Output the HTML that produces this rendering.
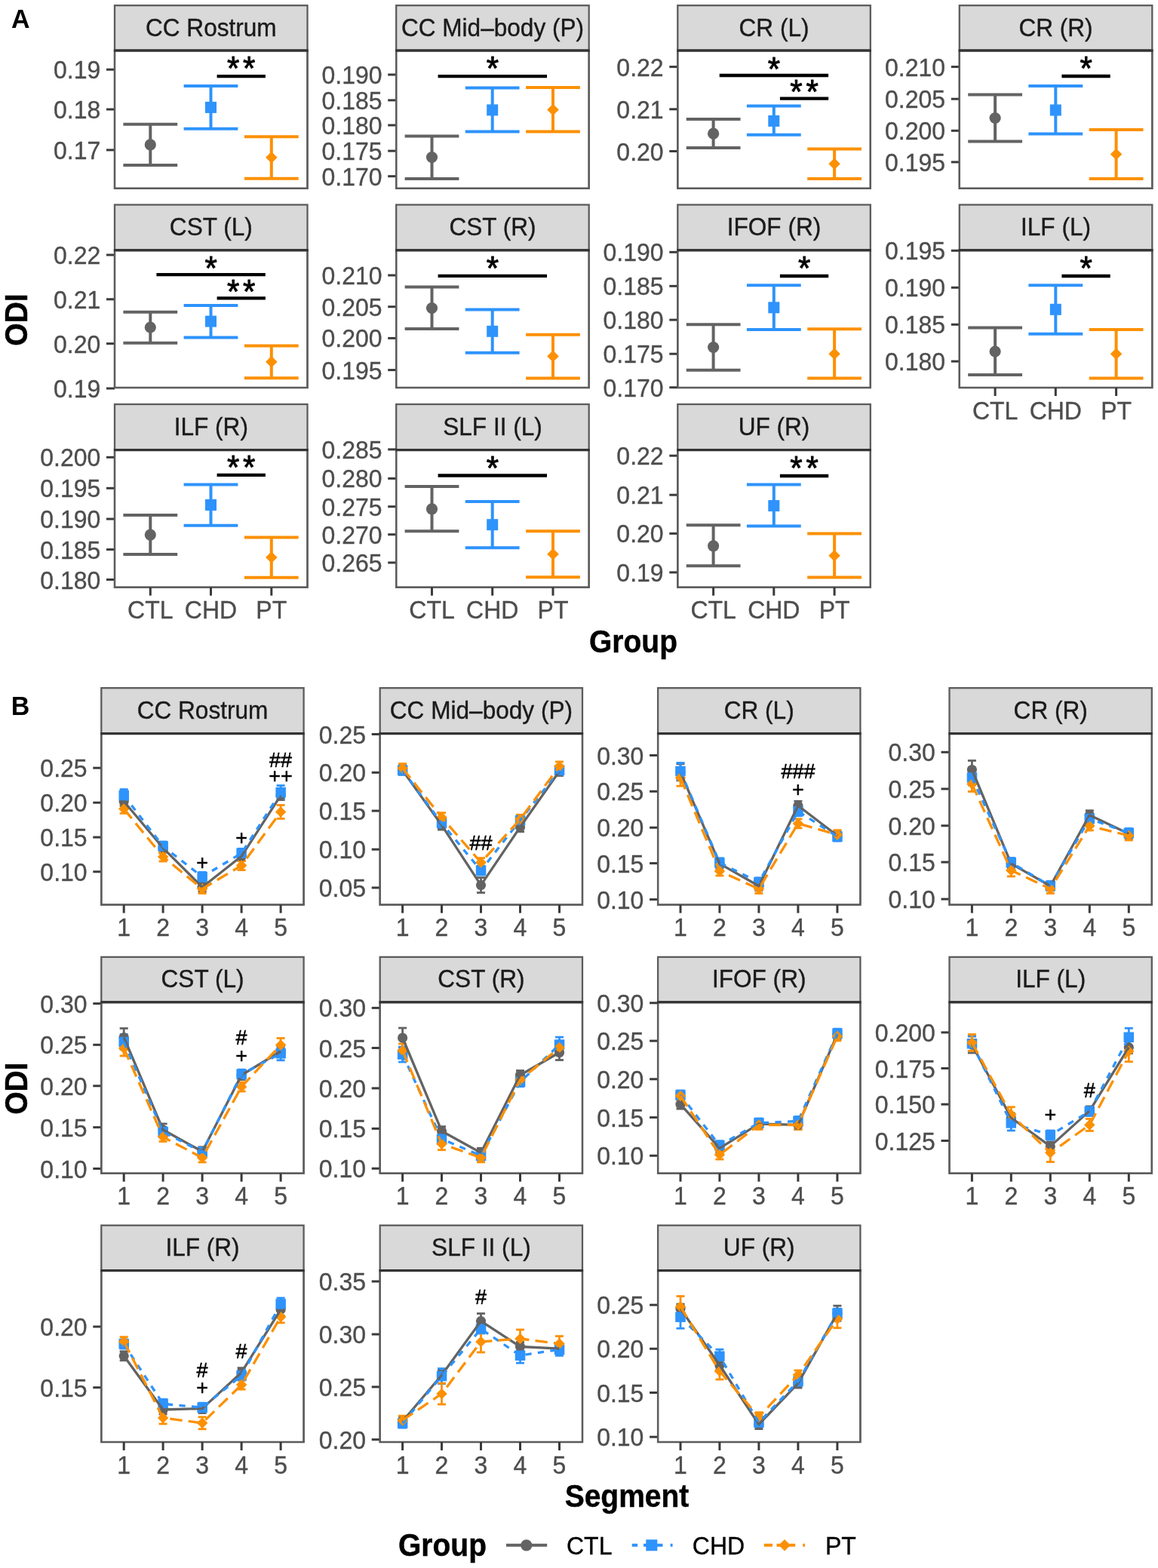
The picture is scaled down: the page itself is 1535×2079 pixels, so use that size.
<!DOCTYPE html>
<html><head><meta charset="utf-8"><title>ODI figure</title>
<style>
html,body{margin:0;padding:0;background:#fff;}
svg{display:block;}
text{font-family:'Liberation Sans', Arial, Helvetica, sans-serif;}
</style></head>
<body>
<svg width="1535" height="2079" viewBox="0 0 1535 2079">
<rect width="1535" height="2079" fill="#fff"/>
<rect x="152.0" y="7.2" width="255.5" height="59.6" fill="#d9d9d9" stroke="#5c5c5c" stroke-width="2.3"/>
<text transform="translate(279.8,47.5) scale(1,1.035)" font-size="31.6" text-anchor="middle" font-weight="normal" fill="#1a1a1a" stroke="#1a1a1a" stroke-width="0.35" >CC Rostrum</text>
<rect x="152.0" y="66.8" width="255.5" height="183.0" fill="#fff" stroke="#5c5c5c" stroke-width="2.3"/>
<line x1="141.0" y1="92.2" x2="152.0" y2="92.2" stroke="#3a3a3a" stroke-width="3" />
<text transform="translate(133.3,104.2) scale(1,1.035)" font-size="32" text-anchor="end" font-weight="normal" fill="#4d4d4d" stroke="#4d4d4d" stroke-width="0.35" >0.19</text>
<line x1="141.0" y1="145.0" x2="152.0" y2="145.0" stroke="#3a3a3a" stroke-width="3" />
<text transform="translate(133.3,157.0) scale(1,1.035)" font-size="32" text-anchor="end" font-weight="normal" fill="#4d4d4d" stroke="#4d4d4d" stroke-width="0.35" >0.18</text>
<line x1="141.0" y1="198.9" x2="152.0" y2="198.9" stroke="#3a3a3a" stroke-width="3" />
<text transform="translate(133.3,210.9) scale(1,1.035)" font-size="32" text-anchor="end" font-weight="normal" fill="#4d4d4d" stroke="#4d4d4d" stroke-width="0.35" >0.17</text>
<line x1="163.4" y1="164.8" x2="235.2" y2="164.8" stroke="#636363" stroke-width="4.0" />
<line x1="163.4" y1="218.9" x2="235.2" y2="218.9" stroke="#636363" stroke-width="4.0" />
<line x1="199.3" y1="164.8" x2="199.3" y2="218.9" stroke="#636363" stroke-width="4.0" />
<circle cx="199.3" cy="191.9" r="7.6" fill="#636363"/>
<line x1="243.6" y1="113.9" x2="315.4" y2="113.9" stroke="#2e93fc" stroke-width="4.0" />
<line x1="243.6" y1="170.8" x2="315.4" y2="170.8" stroke="#2e93fc" stroke-width="4.0" />
<line x1="279.5" y1="113.9" x2="279.5" y2="170.8" stroke="#2e93fc" stroke-width="4.0" />
<rect x="272.0" y="134.9" width="15" height="15" fill="#2e93fc"/>
<line x1="323.9" y1="181.2" x2="395.7" y2="181.2" stroke="#fc9003" stroke-width="4.0" />
<line x1="323.9" y1="236.8" x2="395.7" y2="236.8" stroke="#fc9003" stroke-width="4.0" />
<line x1="359.8" y1="181.2" x2="359.8" y2="236.8" stroke="#fc9003" stroke-width="4.0" />
<polygon points="359.8,201.1 367.6,208.8 359.8,216.6 352.1,208.8" fill="#fc9003"/>
<line x1="287.6" y1="101.1" x2="351.9" y2="101.1" stroke="#000" stroke-width="4.3" />
<text transform="translate(322.1,106.3) scale(1,1.035)" font-size="42" text-anchor="middle" font-weight="normal" fill="#000" stroke="#000" stroke-width="0.9" letter-spacing="4.8" stroke-linejoin="round">**</text>
<rect x="152.0" y="66.8" width="255.5" height="183.0" fill="none" stroke="#5c5c5c" stroke-width="2.3"/>
<line x1="151.0" y1="67.1" x2="408.5" y2="67.1" stroke="#333" stroke-width="3.2" />
<rect x="525.2" y="7.2" width="255.5" height="59.6" fill="#d9d9d9" stroke="#5c5c5c" stroke-width="2.3"/>
<text transform="translate(653.0,47.5) scale(1,1.035)" font-size="31.6" text-anchor="middle" font-weight="normal" fill="#1a1a1a" stroke="#1a1a1a" stroke-width="0.35" >CC Mid–body (P)</text>
<rect x="525.2" y="66.8" width="255.5" height="183.0" fill="#fff" stroke="#5c5c5c" stroke-width="2.3"/>
<line x1="514.2" y1="99.0" x2="525.2" y2="99.0" stroke="#3a3a3a" stroke-width="3" />
<text transform="translate(506.5,111.0) scale(1,1.035)" font-size="32" text-anchor="end" font-weight="normal" fill="#4d4d4d" stroke="#4d4d4d" stroke-width="0.35" >0.190</text>
<line x1="514.2" y1="132.9" x2="525.2" y2="132.9" stroke="#3a3a3a" stroke-width="3" />
<text transform="translate(506.5,144.9) scale(1,1.035)" font-size="32" text-anchor="end" font-weight="normal" fill="#4d4d4d" stroke="#4d4d4d" stroke-width="0.35" >0.185</text>
<line x1="514.2" y1="166.0" x2="525.2" y2="166.0" stroke="#3a3a3a" stroke-width="3" />
<text transform="translate(506.5,178.0) scale(1,1.035)" font-size="32" text-anchor="end" font-weight="normal" fill="#4d4d4d" stroke="#4d4d4d" stroke-width="0.35" >0.180</text>
<line x1="514.2" y1="200.1" x2="525.2" y2="200.1" stroke="#3a3a3a" stroke-width="3" />
<text transform="translate(506.5,212.1) scale(1,1.035)" font-size="32" text-anchor="end" font-weight="normal" fill="#4d4d4d" stroke="#4d4d4d" stroke-width="0.35" >0.175</text>
<line x1="514.2" y1="233.7" x2="525.2" y2="233.7" stroke="#3a3a3a" stroke-width="3" />
<text transform="translate(506.5,245.7) scale(1,1.035)" font-size="32" text-anchor="end" font-weight="normal" fill="#4d4d4d" stroke="#4d4d4d" stroke-width="0.35" >0.170</text>
<line x1="536.6" y1="180.6" x2="608.4" y2="180.6" stroke="#636363" stroke-width="4.0" />
<line x1="536.6" y1="237.1" x2="608.4" y2="237.1" stroke="#636363" stroke-width="4.0" />
<line x1="572.5" y1="180.6" x2="572.5" y2="237.1" stroke="#636363" stroke-width="4.0" />
<circle cx="572.5" cy="208.5" r="7.6" fill="#636363"/>
<line x1="616.8" y1="116.5" x2="688.6" y2="116.5" stroke="#2e93fc" stroke-width="4.0" />
<line x1="616.8" y1="174.6" x2="688.6" y2="174.6" stroke="#2e93fc" stroke-width="4.0" />
<line x1="652.7" y1="116.5" x2="652.7" y2="174.6" stroke="#2e93fc" stroke-width="4.0" />
<rect x="645.2" y="138.4" width="15" height="15" fill="#2e93fc"/>
<line x1="697.1" y1="116.0" x2="768.9" y2="116.0" stroke="#fc9003" stroke-width="4.0" />
<line x1="697.1" y1="174.6" x2="768.9" y2="174.6" stroke="#fc9003" stroke-width="4.0" />
<line x1="733.0" y1="116.0" x2="733.0" y2="174.6" stroke="#fc9003" stroke-width="4.0" />
<polygon points="733.0,137.7 740.8,145.4 733.0,153.2 725.2,145.4" fill="#fc9003"/>
<line x1="580.6" y1="101.1" x2="725.0" y2="101.1" stroke="#000" stroke-width="4.3" />
<text transform="translate(655.2,106.3) scale(1,1.035)" font-size="42" text-anchor="middle" font-weight="normal" fill="#000" stroke="#000" stroke-width="0.9" letter-spacing="4.8" stroke-linejoin="round">*</text>
<rect x="525.2" y="66.8" width="255.5" height="183.0" fill="none" stroke="#5c5c5c" stroke-width="2.3"/>
<line x1="524.2" y1="67.1" x2="781.7" y2="67.1" stroke="#333" stroke-width="3.2" />
<rect x="898.3" y="7.2" width="255.5" height="59.6" fill="#d9d9d9" stroke="#5c5c5c" stroke-width="2.3"/>
<text transform="translate(1026.0,47.5) scale(1,1.035)" font-size="31.6" text-anchor="middle" font-weight="normal" fill="#1a1a1a" stroke="#1a1a1a" stroke-width="0.35" >CR (L)</text>
<rect x="898.3" y="66.8" width="255.5" height="183.0" fill="#fff" stroke="#5c5c5c" stroke-width="2.3"/>
<line x1="887.3" y1="88.6" x2="898.3" y2="88.6" stroke="#3a3a3a" stroke-width="3" />
<text transform="translate(879.6,100.6) scale(1,1.035)" font-size="32" text-anchor="end" font-weight="normal" fill="#4d4d4d" stroke="#4d4d4d" stroke-width="0.35" >0.22</text>
<line x1="887.3" y1="144.8" x2="898.3" y2="144.8" stroke="#3a3a3a" stroke-width="3" />
<text transform="translate(879.6,156.8) scale(1,1.035)" font-size="32" text-anchor="end" font-weight="normal" fill="#4d4d4d" stroke="#4d4d4d" stroke-width="0.35" >0.21</text>
<line x1="887.3" y1="200.5" x2="898.3" y2="200.5" stroke="#3a3a3a" stroke-width="3" />
<text transform="translate(879.6,212.5) scale(1,1.035)" font-size="32" text-anchor="end" font-weight="normal" fill="#4d4d4d" stroke="#4d4d4d" stroke-width="0.35" >0.20</text>
<line x1="909.7" y1="157.9" x2="981.5" y2="157.9" stroke="#636363" stroke-width="4.0" />
<line x1="909.7" y1="196.0" x2="981.5" y2="196.0" stroke="#636363" stroke-width="4.0" />
<line x1="945.6" y1="157.9" x2="945.6" y2="196.0" stroke="#636363" stroke-width="4.0" />
<circle cx="945.6" cy="177.2" r="7.6" fill="#636363"/>
<line x1="989.9" y1="140.6" x2="1061.7" y2="140.6" stroke="#2e93fc" stroke-width="4.0" />
<line x1="989.9" y1="178.7" x2="1061.7" y2="178.7" stroke="#2e93fc" stroke-width="4.0" />
<line x1="1025.8" y1="140.6" x2="1025.8" y2="178.7" stroke="#2e93fc" stroke-width="4.0" />
<rect x="1018.3" y="152.9" width="15" height="15" fill="#2e93fc"/>
<line x1="1070.2" y1="197.5" x2="1142.0" y2="197.5" stroke="#fc9003" stroke-width="4.0" />
<line x1="1070.2" y1="237.1" x2="1142.0" y2="237.1" stroke="#fc9003" stroke-width="4.0" />
<line x1="1106.1" y1="197.5" x2="1106.1" y2="237.1" stroke="#fc9003" stroke-width="4.0" />
<polygon points="1106.1,209.6 1113.8,217.3 1106.1,225.1 1098.3,217.3" fill="#fc9003"/>
<line x1="953.7" y1="100.0" x2="1098.1" y2="100.0" stroke="#000" stroke-width="4.3" />
<text transform="translate(1028.3,106.7) scale(1,1.035)" font-size="42" text-anchor="middle" font-weight="normal" fill="#000" stroke="#000" stroke-width="0.9" letter-spacing="4.8" stroke-linejoin="round">*</text>
<line x1="1033.9" y1="130.7" x2="1098.2" y2="130.7" stroke="#000" stroke-width="4.3" />
<text transform="translate(1068.5,137.4) scale(1,1.035)" font-size="42" text-anchor="middle" font-weight="normal" fill="#000" stroke="#000" stroke-width="0.9" letter-spacing="4.8" stroke-linejoin="round">**</text>
<rect x="898.3" y="66.8" width="255.5" height="183.0" fill="none" stroke="#5c5c5c" stroke-width="2.3"/>
<line x1="897.3" y1="67.1" x2="1154.8" y2="67.1" stroke="#333" stroke-width="3.2" />
<rect x="1271.8" y="7.2" width="255.5" height="59.6" fill="#d9d9d9" stroke="#5c5c5c" stroke-width="2.3"/>
<text transform="translate(1399.5,47.5) scale(1,1.035)" font-size="31.6" text-anchor="middle" font-weight="normal" fill="#1a1a1a" stroke="#1a1a1a" stroke-width="0.35" >CR (R)</text>
<rect x="1271.8" y="66.8" width="255.5" height="183.0" fill="#fff" stroke="#5c5c5c" stroke-width="2.3"/>
<line x1="1260.8" y1="88.6" x2="1271.8" y2="88.6" stroke="#3a3a3a" stroke-width="3" />
<text transform="translate(1253.1,100.6) scale(1,1.035)" font-size="32" text-anchor="end" font-weight="normal" fill="#4d4d4d" stroke="#4d4d4d" stroke-width="0.35" >0.210</text>
<line x1="1260.8" y1="131.2" x2="1271.8" y2="131.2" stroke="#3a3a3a" stroke-width="3" />
<text transform="translate(1253.1,143.2) scale(1,1.035)" font-size="32" text-anchor="end" font-weight="normal" fill="#4d4d4d" stroke="#4d4d4d" stroke-width="0.35" >0.205</text>
<line x1="1260.8" y1="173.3" x2="1271.8" y2="173.3" stroke="#3a3a3a" stroke-width="3" />
<text transform="translate(1253.1,185.3) scale(1,1.035)" font-size="32" text-anchor="end" font-weight="normal" fill="#4d4d4d" stroke="#4d4d4d" stroke-width="0.35" >0.200</text>
<line x1="1260.8" y1="214.9" x2="1271.8" y2="214.9" stroke="#3a3a3a" stroke-width="3" />
<text transform="translate(1253.1,226.9) scale(1,1.035)" font-size="32" text-anchor="end" font-weight="normal" fill="#4d4d4d" stroke="#4d4d4d" stroke-width="0.35" >0.195</text>
<line x1="1283.2" y1="125.5" x2="1355.0" y2="125.5" stroke="#636363" stroke-width="4.0" />
<line x1="1283.2" y1="187.6" x2="1355.0" y2="187.6" stroke="#636363" stroke-width="4.0" />
<line x1="1319.1" y1="125.5" x2="1319.1" y2="187.6" stroke="#636363" stroke-width="4.0" />
<circle cx="1319.1" cy="156.5" r="7.6" fill="#636363"/>
<line x1="1363.4" y1="113.9" x2="1435.2" y2="113.9" stroke="#2e93fc" stroke-width="4.0" />
<line x1="1363.4" y1="177.5" x2="1435.2" y2="177.5" stroke="#2e93fc" stroke-width="4.0" />
<line x1="1399.3" y1="113.9" x2="1399.3" y2="177.5" stroke="#2e93fc" stroke-width="4.0" />
<rect x="1391.8" y="138.5" width="15" height="15" fill="#2e93fc"/>
<line x1="1443.7" y1="172.0" x2="1515.5" y2="172.0" stroke="#fc9003" stroke-width="4.0" />
<line x1="1443.7" y1="236.9" x2="1515.5" y2="236.9" stroke="#fc9003" stroke-width="4.0" />
<line x1="1479.6" y1="172.0" x2="1479.6" y2="236.9" stroke="#fc9003" stroke-width="4.0" />
<polygon points="1479.6,196.8 1487.3,204.5 1479.6,212.2 1471.8,204.5" fill="#fc9003"/>
<line x1="1407.4" y1="101.0" x2="1471.7" y2="101.0" stroke="#000" stroke-width="4.3" />
<text transform="translate(1442.0,106.2) scale(1,1.035)" font-size="42" text-anchor="middle" font-weight="normal" fill="#000" stroke="#000" stroke-width="0.9" letter-spacing="4.8" stroke-linejoin="round">*</text>
<rect x="1271.8" y="66.8" width="255.5" height="183.0" fill="none" stroke="#5c5c5c" stroke-width="2.3"/>
<line x1="1270.8" y1="67.1" x2="1528.3" y2="67.1" stroke="#333" stroke-width="3.2" />
<rect x="152.0" y="271.5" width="255.5" height="60.0" fill="#d9d9d9" stroke="#5c5c5c" stroke-width="2.3"/>
<text transform="translate(279.8,312.0) scale(1,1.035)" font-size="31.6" text-anchor="middle" font-weight="normal" fill="#1a1a1a" stroke="#1a1a1a" stroke-width="0.35" >CST (L)</text>
<rect x="152.0" y="331.5" width="255.5" height="182.5" fill="#fff" stroke="#5c5c5c" stroke-width="2.3"/>
<line x1="141.0" y1="338.0" x2="152.0" y2="338.0" stroke="#3a3a3a" stroke-width="3" />
<text transform="translate(133.3,350.0) scale(1,1.035)" font-size="32" text-anchor="end" font-weight="normal" fill="#4d4d4d" stroke="#4d4d4d" stroke-width="0.35" >0.22</text>
<line x1="141.0" y1="396.8" x2="152.0" y2="396.8" stroke="#3a3a3a" stroke-width="3" />
<text transform="translate(133.3,408.8) scale(1,1.035)" font-size="32" text-anchor="end" font-weight="normal" fill="#4d4d4d" stroke="#4d4d4d" stroke-width="0.35" >0.21</text>
<line x1="141.0" y1="455.6" x2="152.0" y2="455.6" stroke="#3a3a3a" stroke-width="3" />
<text transform="translate(133.3,467.6) scale(1,1.035)" font-size="32" text-anchor="end" font-weight="normal" fill="#4d4d4d" stroke="#4d4d4d" stroke-width="0.35" >0.20</text>
<line x1="141.0" y1="515.0" x2="152.0" y2="515.0" stroke="#3a3a3a" stroke-width="3" />
<text transform="translate(133.3,527.0) scale(1,1.035)" font-size="32" text-anchor="end" font-weight="normal" fill="#4d4d4d" stroke="#4d4d4d" stroke-width="0.35" >0.19</text>
<line x1="163.4" y1="413.8" x2="235.2" y2="413.8" stroke="#636363" stroke-width="4.0" />
<line x1="163.4" y1="454.8" x2="235.2" y2="454.8" stroke="#636363" stroke-width="4.0" />
<line x1="199.3" y1="413.8" x2="199.3" y2="454.8" stroke="#636363" stroke-width="4.0" />
<circle cx="199.3" cy="434.0" r="7.6" fill="#636363"/>
<line x1="243.6" y1="405.0" x2="315.4" y2="405.0" stroke="#2e93fc" stroke-width="4.0" />
<line x1="243.6" y1="447.4" x2="315.4" y2="447.4" stroke="#2e93fc" stroke-width="4.0" />
<line x1="279.5" y1="405.0" x2="279.5" y2="447.4" stroke="#2e93fc" stroke-width="4.0" />
<rect x="272.0" y="418.6" width="15" height="15" fill="#2e93fc"/>
<line x1="323.9" y1="458.4" x2="395.7" y2="458.4" stroke="#fc9003" stroke-width="4.0" />
<line x1="323.9" y1="501.3" x2="395.7" y2="501.3" stroke="#fc9003" stroke-width="4.0" />
<line x1="359.8" y1="458.4" x2="359.8" y2="501.3" stroke="#fc9003" stroke-width="4.0" />
<polygon points="359.8,471.9 367.6,479.7 359.8,487.4 352.1,479.7" fill="#fc9003"/>
<line x1="207.4" y1="364.2" x2="351.8" y2="364.2" stroke="#000" stroke-width="4.3" />
<text transform="translate(282.0,370.7) scale(1,1.035)" font-size="42" text-anchor="middle" font-weight="normal" fill="#000" stroke="#000" stroke-width="0.9" letter-spacing="4.8" stroke-linejoin="round">*</text>
<line x1="287.6" y1="395.4" x2="351.9" y2="395.4" stroke="#000" stroke-width="4.3" />
<text transform="translate(322.1,401.9) scale(1,1.035)" font-size="42" text-anchor="middle" font-weight="normal" fill="#000" stroke="#000" stroke-width="0.9" letter-spacing="4.8" stroke-linejoin="round">**</text>
<rect x="152.0" y="331.5" width="255.5" height="182.5" fill="none" stroke="#5c5c5c" stroke-width="2.3"/>
<line x1="151.0" y1="331.8" x2="408.5" y2="331.8" stroke="#333" stroke-width="3.2" />
<rect x="525.2" y="271.5" width="255.5" height="60.0" fill="#d9d9d9" stroke="#5c5c5c" stroke-width="2.3"/>
<text transform="translate(653.0,312.0) scale(1,1.035)" font-size="31.6" text-anchor="middle" font-weight="normal" fill="#1a1a1a" stroke="#1a1a1a" stroke-width="0.35" >CST (R)</text>
<rect x="525.2" y="331.5" width="255.5" height="182.5" fill="#fff" stroke="#5c5c5c" stroke-width="2.3"/>
<line x1="514.2" y1="365.0" x2="525.2" y2="365.0" stroke="#3a3a3a" stroke-width="3" />
<text transform="translate(506.5,377.0) scale(1,1.035)" font-size="32" text-anchor="end" font-weight="normal" fill="#4d4d4d" stroke="#4d4d4d" stroke-width="0.35" >0.210</text>
<line x1="514.2" y1="406.7" x2="525.2" y2="406.7" stroke="#3a3a3a" stroke-width="3" />
<text transform="translate(506.5,418.7) scale(1,1.035)" font-size="32" text-anchor="end" font-weight="normal" fill="#4d4d4d" stroke="#4d4d4d" stroke-width="0.35" >0.205</text>
<line x1="514.2" y1="448.4" x2="525.2" y2="448.4" stroke="#3a3a3a" stroke-width="3" />
<text transform="translate(506.5,460.4) scale(1,1.035)" font-size="32" text-anchor="end" font-weight="normal" fill="#4d4d4d" stroke="#4d4d4d" stroke-width="0.35" >0.200</text>
<line x1="514.2" y1="490.6" x2="525.2" y2="490.6" stroke="#3a3a3a" stroke-width="3" />
<text transform="translate(506.5,502.6) scale(1,1.035)" font-size="32" text-anchor="end" font-weight="normal" fill="#4d4d4d" stroke="#4d4d4d" stroke-width="0.35" >0.195</text>
<line x1="536.6" y1="380.4" x2="608.4" y2="380.4" stroke="#636363" stroke-width="4.0" />
<line x1="536.6" y1="435.9" x2="608.4" y2="435.9" stroke="#636363" stroke-width="4.0" />
<line x1="572.5" y1="380.4" x2="572.5" y2="435.9" stroke="#636363" stroke-width="4.0" />
<circle cx="572.5" cy="408.5" r="7.6" fill="#636363"/>
<line x1="616.8" y1="410.6" x2="688.6" y2="410.6" stroke="#2e93fc" stroke-width="4.0" />
<line x1="616.8" y1="467.7" x2="688.6" y2="467.7" stroke="#2e93fc" stroke-width="4.0" />
<line x1="652.7" y1="410.6" x2="652.7" y2="467.7" stroke="#2e93fc" stroke-width="4.0" />
<rect x="645.2" y="431.8" width="15" height="15" fill="#2e93fc"/>
<line x1="697.1" y1="443.7" x2="768.9" y2="443.7" stroke="#fc9003" stroke-width="4.0" />
<line x1="697.1" y1="501.6" x2="768.9" y2="501.6" stroke="#fc9003" stroke-width="4.0" />
<line x1="733.0" y1="443.7" x2="733.0" y2="501.6" stroke="#fc9003" stroke-width="4.0" />
<polygon points="733.0,464.6 740.8,472.4 733.0,480.1 725.2,472.4" fill="#fc9003"/>
<line x1="580.6" y1="365.8" x2="725.0" y2="365.8" stroke="#000" stroke-width="4.3" />
<text transform="translate(655.2,371.0) scale(1,1.035)" font-size="42" text-anchor="middle" font-weight="normal" fill="#000" stroke="#000" stroke-width="0.9" letter-spacing="4.8" stroke-linejoin="round">*</text>
<rect x="525.2" y="331.5" width="255.5" height="182.5" fill="none" stroke="#5c5c5c" stroke-width="2.3"/>
<line x1="524.2" y1="331.8" x2="781.7" y2="331.8" stroke="#333" stroke-width="3.2" />
<rect x="898.3" y="271.5" width="255.5" height="60.0" fill="#d9d9d9" stroke="#5c5c5c" stroke-width="2.3"/>
<text transform="translate(1026.0,312.0) scale(1,1.035)" font-size="31.6" text-anchor="middle" font-weight="normal" fill="#1a1a1a" stroke="#1a1a1a" stroke-width="0.35" >IFOF (R)</text>
<rect x="898.3" y="331.5" width="255.5" height="182.5" fill="#fff" stroke="#5c5c5c" stroke-width="2.3"/>
<line x1="887.3" y1="334.3" x2="898.3" y2="334.3" stroke="#3a3a3a" stroke-width="3" />
<text transform="translate(879.6,346.3) scale(1,1.035)" font-size="32" text-anchor="end" font-weight="normal" fill="#4d4d4d" stroke="#4d4d4d" stroke-width="0.35" >0.190</text>
<line x1="887.3" y1="379.3" x2="898.3" y2="379.3" stroke="#3a3a3a" stroke-width="3" />
<text transform="translate(879.6,391.3) scale(1,1.035)" font-size="32" text-anchor="end" font-weight="normal" fill="#4d4d4d" stroke="#4d4d4d" stroke-width="0.35" >0.185</text>
<line x1="887.3" y1="424.1" x2="898.3" y2="424.1" stroke="#3a3a3a" stroke-width="3" />
<text transform="translate(879.6,436.1) scale(1,1.035)" font-size="32" text-anchor="end" font-weight="normal" fill="#4d4d4d" stroke="#4d4d4d" stroke-width="0.35" >0.180</text>
<line x1="887.3" y1="469.2" x2="898.3" y2="469.2" stroke="#3a3a3a" stroke-width="3" />
<text transform="translate(879.6,481.2) scale(1,1.035)" font-size="32" text-anchor="end" font-weight="normal" fill="#4d4d4d" stroke="#4d4d4d" stroke-width="0.35" >0.175</text>
<line x1="887.3" y1="513.7" x2="898.3" y2="513.7" stroke="#3a3a3a" stroke-width="3" />
<text transform="translate(879.6,525.7) scale(1,1.035)" font-size="32" text-anchor="end" font-weight="normal" fill="#4d4d4d" stroke="#4d4d4d" stroke-width="0.35" >0.170</text>
<line x1="909.7" y1="430.3" x2="981.5" y2="430.3" stroke="#636363" stroke-width="4.0" />
<line x1="909.7" y1="490.7" x2="981.5" y2="490.7" stroke="#636363" stroke-width="4.0" />
<line x1="945.6" y1="430.3" x2="945.6" y2="490.7" stroke="#636363" stroke-width="4.0" />
<circle cx="945.6" cy="460.5" r="7.6" fill="#636363"/>
<line x1="989.9" y1="378.3" x2="1061.7" y2="378.3" stroke="#2e93fc" stroke-width="4.0" />
<line x1="989.9" y1="437.0" x2="1061.7" y2="437.0" stroke="#2e93fc" stroke-width="4.0" />
<line x1="1025.8" y1="378.3" x2="1025.8" y2="437.0" stroke="#2e93fc" stroke-width="4.0" />
<rect x="1018.3" y="400.3" width="15" height="15" fill="#2e93fc"/>
<line x1="1070.2" y1="436.3" x2="1142.0" y2="436.3" stroke="#fc9003" stroke-width="4.0" />
<line x1="1070.2" y1="501.4" x2="1142.0" y2="501.4" stroke="#fc9003" stroke-width="4.0" />
<line x1="1106.1" y1="436.3" x2="1106.1" y2="501.4" stroke="#fc9003" stroke-width="4.0" />
<polygon points="1106.1,461.4 1113.8,469.2 1106.1,476.9 1098.3,469.2" fill="#fc9003"/>
<line x1="1033.9" y1="366.0" x2="1098.2" y2="366.0" stroke="#000" stroke-width="4.3" />
<text transform="translate(1068.5,371.2) scale(1,1.035)" font-size="42" text-anchor="middle" font-weight="normal" fill="#000" stroke="#000" stroke-width="0.9" letter-spacing="4.8" stroke-linejoin="round">*</text>
<rect x="898.3" y="331.5" width="255.5" height="182.5" fill="none" stroke="#5c5c5c" stroke-width="2.3"/>
<line x1="897.3" y1="331.8" x2="1154.8" y2="331.8" stroke="#333" stroke-width="3.2" />
<rect x="1271.8" y="271.5" width="255.5" height="60.0" fill="#d9d9d9" stroke="#5c5c5c" stroke-width="2.3"/>
<text transform="translate(1399.5,312.0) scale(1,1.035)" font-size="31.6" text-anchor="middle" font-weight="normal" fill="#1a1a1a" stroke="#1a1a1a" stroke-width="0.35" >ILF (L)</text>
<rect x="1271.8" y="331.5" width="255.5" height="182.5" fill="#fff" stroke="#5c5c5c" stroke-width="2.3"/>
<line x1="1260.8" y1="332.3" x2="1271.8" y2="332.3" stroke="#3a3a3a" stroke-width="3" />
<text transform="translate(1253.1,344.3) scale(1,1.035)" font-size="32" text-anchor="end" font-weight="normal" fill="#4d4d4d" stroke="#4d4d4d" stroke-width="0.35" >0.195</text>
<line x1="1260.8" y1="381.3" x2="1271.8" y2="381.3" stroke="#3a3a3a" stroke-width="3" />
<text transform="translate(1253.1,393.3) scale(1,1.035)" font-size="32" text-anchor="end" font-weight="normal" fill="#4d4d4d" stroke="#4d4d4d" stroke-width="0.35" >0.190</text>
<line x1="1260.8" y1="430.3" x2="1271.8" y2="430.3" stroke="#3a3a3a" stroke-width="3" />
<text transform="translate(1253.1,442.3) scale(1,1.035)" font-size="32" text-anchor="end" font-weight="normal" fill="#4d4d4d" stroke="#4d4d4d" stroke-width="0.35" >0.185</text>
<line x1="1260.8" y1="479.1" x2="1271.8" y2="479.1" stroke="#3a3a3a" stroke-width="3" />
<text transform="translate(1253.1,491.1) scale(1,1.035)" font-size="32" text-anchor="end" font-weight="normal" fill="#4d4d4d" stroke="#4d4d4d" stroke-width="0.35" >0.180</text>
<line x1="1283.2" y1="434.5" x2="1355.0" y2="434.5" stroke="#636363" stroke-width="4.0" />
<line x1="1283.2" y1="496.9" x2="1355.0" y2="496.9" stroke="#636363" stroke-width="4.0" />
<line x1="1319.1" y1="434.5" x2="1319.1" y2="496.9" stroke="#636363" stroke-width="4.0" />
<circle cx="1319.1" cy="466.0" r="7.6" fill="#636363"/>
<line x1="1363.4" y1="378.3" x2="1435.2" y2="378.3" stroke="#2e93fc" stroke-width="4.0" />
<line x1="1363.4" y1="442.7" x2="1435.2" y2="442.7" stroke="#2e93fc" stroke-width="4.0" />
<line x1="1399.3" y1="378.3" x2="1399.3" y2="442.7" stroke="#2e93fc" stroke-width="4.0" />
<rect x="1391.8" y="402.8" width="15" height="15" fill="#2e93fc"/>
<line x1="1443.7" y1="437.0" x2="1515.5" y2="437.0" stroke="#fc9003" stroke-width="4.0" />
<line x1="1443.7" y1="501.4" x2="1515.5" y2="501.4" stroke="#fc9003" stroke-width="4.0" />
<line x1="1479.6" y1="437.0" x2="1479.6" y2="501.4" stroke="#fc9003" stroke-width="4.0" />
<polygon points="1479.6,461.4 1487.3,469.2 1479.6,476.9 1471.8,469.2" fill="#fc9003"/>
<line x1="1407.4" y1="366.0" x2="1471.7" y2="366.0" stroke="#000" stroke-width="4.3" />
<text transform="translate(1442.0,371.2) scale(1,1.035)" font-size="42" text-anchor="middle" font-weight="normal" fill="#000" stroke="#000" stroke-width="0.9" letter-spacing="4.8" stroke-linejoin="round">*</text>
<rect x="1271.8" y="331.5" width="255.5" height="182.5" fill="none" stroke="#5c5c5c" stroke-width="2.3"/>
<line x1="1270.8" y1="331.8" x2="1528.3" y2="331.8" stroke="#333" stroke-width="3.2" />
<line x1="1319.1" y1="514.0" x2="1319.1" y2="525.0" stroke="#3a3a3a" stroke-width="3" />
<text transform="translate(1319.1,555.5) scale(1,1.035)" font-size="32" text-anchor="middle" font-weight="normal" fill="#4d4d4d" stroke="#4d4d4d" stroke-width="0.35" >CTL</text>
<line x1="1399.3" y1="514.0" x2="1399.3" y2="525.0" stroke="#3a3a3a" stroke-width="3" />
<text transform="translate(1399.3,555.5) scale(1,1.035)" font-size="32" text-anchor="middle" font-weight="normal" fill="#4d4d4d" stroke="#4d4d4d" stroke-width="0.35" >CHD</text>
<line x1="1479.6" y1="514.0" x2="1479.6" y2="525.0" stroke="#3a3a3a" stroke-width="3" />
<text transform="translate(1479.6,555.5) scale(1,1.035)" font-size="32" text-anchor="middle" font-weight="normal" fill="#4d4d4d" stroke="#4d4d4d" stroke-width="0.35" >PT</text>
<rect x="152.0" y="536.0" width="255.5" height="60.3" fill="#d9d9d9" stroke="#5c5c5c" stroke-width="2.3"/>
<text transform="translate(279.8,576.6) scale(1,1.035)" font-size="31.6" text-anchor="middle" font-weight="normal" fill="#1a1a1a" stroke="#1a1a1a" stroke-width="0.35" >ILF (R)</text>
<rect x="152.0" y="596.3" width="255.5" height="182.4" fill="#fff" stroke="#5c5c5c" stroke-width="2.3"/>
<line x1="141.0" y1="606.3" x2="152.0" y2="606.3" stroke="#3a3a3a" stroke-width="3" />
<text transform="translate(133.3,618.3) scale(1,1.035)" font-size="32" text-anchor="end" font-weight="normal" fill="#4d4d4d" stroke="#4d4d4d" stroke-width="0.35" >0.200</text>
<line x1="141.0" y1="647.3" x2="152.0" y2="647.3" stroke="#3a3a3a" stroke-width="3" />
<text transform="translate(133.3,659.3) scale(1,1.035)" font-size="32" text-anchor="end" font-weight="normal" fill="#4d4d4d" stroke="#4d4d4d" stroke-width="0.35" >0.195</text>
<line x1="141.0" y1="688.1" x2="152.0" y2="688.1" stroke="#3a3a3a" stroke-width="3" />
<text transform="translate(133.3,700.1) scale(1,1.035)" font-size="32" text-anchor="end" font-weight="normal" fill="#4d4d4d" stroke="#4d4d4d" stroke-width="0.35" >0.190</text>
<line x1="141.0" y1="728.6" x2="152.0" y2="728.6" stroke="#3a3a3a" stroke-width="3" />
<text transform="translate(133.3,740.6) scale(1,1.035)" font-size="32" text-anchor="end" font-weight="normal" fill="#4d4d4d" stroke="#4d4d4d" stroke-width="0.35" >0.185</text>
<line x1="141.0" y1="768.5" x2="152.0" y2="768.5" stroke="#3a3a3a" stroke-width="3" />
<text transform="translate(133.3,780.5) scale(1,1.035)" font-size="32" text-anchor="end" font-weight="normal" fill="#4d4d4d" stroke="#4d4d4d" stroke-width="0.35" >0.180</text>
<line x1="163.4" y1="682.9" x2="235.2" y2="682.9" stroke="#636363" stroke-width="4.0" />
<line x1="163.4" y1="735.1" x2="235.2" y2="735.1" stroke="#636363" stroke-width="4.0" />
<line x1="199.3" y1="682.9" x2="199.3" y2="735.1" stroke="#636363" stroke-width="4.0" />
<circle cx="199.3" cy="709.1" r="7.6" fill="#636363"/>
<line x1="243.6" y1="642.6" x2="315.4" y2="642.6" stroke="#2e93fc" stroke-width="4.0" />
<line x1="243.6" y1="696.8" x2="315.4" y2="696.8" stroke="#2e93fc" stroke-width="4.0" />
<line x1="279.5" y1="642.6" x2="279.5" y2="696.8" stroke="#2e93fc" stroke-width="4.0" />
<rect x="272.0" y="662.0" width="15" height="15" fill="#2e93fc"/>
<line x1="323.9" y1="712.4" x2="395.7" y2="712.4" stroke="#fc9003" stroke-width="4.0" />
<line x1="323.9" y1="765.8" x2="395.7" y2="765.8" stroke="#fc9003" stroke-width="4.0" />
<line x1="359.8" y1="712.4" x2="359.8" y2="765.8" stroke="#fc9003" stroke-width="4.0" />
<polygon points="359.8,731.2 367.6,739.0 359.8,746.8 352.1,739.0" fill="#fc9003"/>
<line x1="287.6" y1="629.8" x2="351.9" y2="629.8" stroke="#000" stroke-width="4.3" />
<text transform="translate(322.1,635.0) scale(1,1.035)" font-size="42" text-anchor="middle" font-weight="normal" fill="#000" stroke="#000" stroke-width="0.9" letter-spacing="4.8" stroke-linejoin="round">**</text>
<rect x="152.0" y="596.3" width="255.5" height="182.4" fill="none" stroke="#5c5c5c" stroke-width="2.3"/>
<line x1="151.0" y1="596.6" x2="408.5" y2="596.6" stroke="#333" stroke-width="3.2" />
<line x1="199.3" y1="778.7" x2="199.3" y2="789.7" stroke="#3a3a3a" stroke-width="3" />
<text transform="translate(199.3,820.2) scale(1,1.035)" font-size="32" text-anchor="middle" font-weight="normal" fill="#4d4d4d" stroke="#4d4d4d" stroke-width="0.35" >CTL</text>
<line x1="279.5" y1="778.7" x2="279.5" y2="789.7" stroke="#3a3a3a" stroke-width="3" />
<text transform="translate(279.5,820.2) scale(1,1.035)" font-size="32" text-anchor="middle" font-weight="normal" fill="#4d4d4d" stroke="#4d4d4d" stroke-width="0.35" >CHD</text>
<line x1="359.8" y1="778.7" x2="359.8" y2="789.7" stroke="#3a3a3a" stroke-width="3" />
<text transform="translate(359.8,820.2) scale(1,1.035)" font-size="32" text-anchor="middle" font-weight="normal" fill="#4d4d4d" stroke="#4d4d4d" stroke-width="0.35" >PT</text>
<rect x="525.2" y="536.0" width="255.5" height="60.3" fill="#d9d9d9" stroke="#5c5c5c" stroke-width="2.3"/>
<text transform="translate(653.0,576.6) scale(1,1.035)" font-size="31.6" text-anchor="middle" font-weight="normal" fill="#1a1a1a" stroke="#1a1a1a" stroke-width="0.35" >SLF II (L)</text>
<rect x="525.2" y="596.3" width="255.5" height="182.4" fill="#fff" stroke="#5c5c5c" stroke-width="2.3"/>
<line x1="514.2" y1="595.9" x2="525.2" y2="595.9" stroke="#3a3a3a" stroke-width="3" />
<text transform="translate(506.5,607.9) scale(1,1.035)" font-size="32" text-anchor="end" font-weight="normal" fill="#4d4d4d" stroke="#4d4d4d" stroke-width="0.35" >0.285</text>
<line x1="514.2" y1="634.4" x2="525.2" y2="634.4" stroke="#3a3a3a" stroke-width="3" />
<text transform="translate(506.5,646.4) scale(1,1.035)" font-size="32" text-anchor="end" font-weight="normal" fill="#4d4d4d" stroke="#4d4d4d" stroke-width="0.35" >0.280</text>
<line x1="514.2" y1="671.7" x2="525.2" y2="671.7" stroke="#3a3a3a" stroke-width="3" />
<text transform="translate(506.5,683.7) scale(1,1.035)" font-size="32" text-anchor="end" font-weight="normal" fill="#4d4d4d" stroke="#4d4d4d" stroke-width="0.35" >0.275</text>
<line x1="514.2" y1="708.7" x2="525.2" y2="708.7" stroke="#3a3a3a" stroke-width="3" />
<text transform="translate(506.5,720.7) scale(1,1.035)" font-size="32" text-anchor="end" font-weight="normal" fill="#4d4d4d" stroke="#4d4d4d" stroke-width="0.35" >0.270</text>
<line x1="514.2" y1="746.0" x2="525.2" y2="746.0" stroke="#3a3a3a" stroke-width="3" />
<text transform="translate(506.5,758.0) scale(1,1.035)" font-size="32" text-anchor="end" font-weight="normal" fill="#4d4d4d" stroke="#4d4d4d" stroke-width="0.35" >0.265</text>
<line x1="536.6" y1="644.9" x2="608.4" y2="644.9" stroke="#636363" stroke-width="4.0" />
<line x1="536.6" y1="704.3" x2="608.4" y2="704.3" stroke="#636363" stroke-width="4.0" />
<line x1="572.5" y1="644.9" x2="572.5" y2="704.3" stroke="#636363" stroke-width="4.0" />
<circle cx="572.5" cy="674.8" r="7.6" fill="#636363"/>
<line x1="616.8" y1="664.9" x2="688.6" y2="664.9" stroke="#2e93fc" stroke-width="4.0" />
<line x1="616.8" y1="726.2" x2="688.6" y2="726.2" stroke="#2e93fc" stroke-width="4.0" />
<line x1="652.7" y1="664.9" x2="652.7" y2="726.2" stroke="#2e93fc" stroke-width="4.0" />
<rect x="645.2" y="688.2" width="15" height="15" fill="#2e93fc"/>
<line x1="697.1" y1="704.3" x2="768.9" y2="704.3" stroke="#fc9003" stroke-width="4.0" />
<line x1="697.1" y1="765.3" x2="768.9" y2="765.3" stroke="#fc9003" stroke-width="4.0" />
<line x1="733.0" y1="704.3" x2="733.0" y2="765.3" stroke="#fc9003" stroke-width="4.0" />
<polygon points="733.0,727.0 740.8,734.8 733.0,742.5 725.2,734.8" fill="#fc9003"/>
<line x1="580.6" y1="630.5" x2="725.0" y2="630.5" stroke="#000" stroke-width="4.3" />
<text transform="translate(655.2,635.7) scale(1,1.035)" font-size="42" text-anchor="middle" font-weight="normal" fill="#000" stroke="#000" stroke-width="0.9" letter-spacing="4.8" stroke-linejoin="round">*</text>
<rect x="525.2" y="596.3" width="255.5" height="182.4" fill="none" stroke="#5c5c5c" stroke-width="2.3"/>
<line x1="524.2" y1="596.6" x2="781.7" y2="596.6" stroke="#333" stroke-width="3.2" />
<line x1="572.5" y1="778.7" x2="572.5" y2="789.7" stroke="#3a3a3a" stroke-width="3" />
<text transform="translate(572.5,820.2) scale(1,1.035)" font-size="32" text-anchor="middle" font-weight="normal" fill="#4d4d4d" stroke="#4d4d4d" stroke-width="0.35" >CTL</text>
<line x1="652.7" y1="778.7" x2="652.7" y2="789.7" stroke="#3a3a3a" stroke-width="3" />
<text transform="translate(652.7,820.2) scale(1,1.035)" font-size="32" text-anchor="middle" font-weight="normal" fill="#4d4d4d" stroke="#4d4d4d" stroke-width="0.35" >CHD</text>
<line x1="733.0" y1="778.7" x2="733.0" y2="789.7" stroke="#3a3a3a" stroke-width="3" />
<text transform="translate(733.0,820.2) scale(1,1.035)" font-size="32" text-anchor="middle" font-weight="normal" fill="#4d4d4d" stroke="#4d4d4d" stroke-width="0.35" >PT</text>
<rect x="898.3" y="536.0" width="255.5" height="60.3" fill="#d9d9d9" stroke="#5c5c5c" stroke-width="2.3"/>
<text transform="translate(1026.0,576.6) scale(1,1.035)" font-size="31.6" text-anchor="middle" font-weight="normal" fill="#1a1a1a" stroke="#1a1a1a" stroke-width="0.35" >UF (R)</text>
<rect x="898.3" y="596.3" width="255.5" height="182.4" fill="#fff" stroke="#5c5c5c" stroke-width="2.3"/>
<line x1="887.3" y1="604.2" x2="898.3" y2="604.2" stroke="#3a3a3a" stroke-width="3" />
<text transform="translate(879.6,616.2) scale(1,1.035)" font-size="32" text-anchor="end" font-weight="normal" fill="#4d4d4d" stroke="#4d4d4d" stroke-width="0.35" >0.22</text>
<line x1="887.3" y1="656.2" x2="898.3" y2="656.2" stroke="#3a3a3a" stroke-width="3" />
<text transform="translate(879.6,668.2) scale(1,1.035)" font-size="32" text-anchor="end" font-weight="normal" fill="#4d4d4d" stroke="#4d4d4d" stroke-width="0.35" >0.21</text>
<line x1="887.3" y1="707.4" x2="898.3" y2="707.4" stroke="#3a3a3a" stroke-width="3" />
<text transform="translate(879.6,719.4) scale(1,1.035)" font-size="32" text-anchor="end" font-weight="normal" fill="#4d4d4d" stroke="#4d4d4d" stroke-width="0.35" >0.20</text>
<line x1="887.3" y1="758.9" x2="898.3" y2="758.9" stroke="#3a3a3a" stroke-width="3" />
<text transform="translate(879.6,770.9) scale(1,1.035)" font-size="32" text-anchor="end" font-weight="normal" fill="#4d4d4d" stroke="#4d4d4d" stroke-width="0.35" >0.19</text>
<line x1="909.7" y1="696.3" x2="981.5" y2="696.3" stroke="#636363" stroke-width="4.0" />
<line x1="909.7" y1="750.3" x2="981.5" y2="750.3" stroke="#636363" stroke-width="4.0" />
<line x1="945.6" y1="696.3" x2="945.6" y2="750.3" stroke="#636363" stroke-width="4.0" />
<circle cx="945.6" cy="723.8" r="7.6" fill="#636363"/>
<line x1="989.9" y1="642.6" x2="1061.7" y2="642.6" stroke="#2e93fc" stroke-width="4.0" />
<line x1="989.9" y1="697.5" x2="1061.7" y2="697.5" stroke="#2e93fc" stroke-width="4.0" />
<line x1="1025.8" y1="642.6" x2="1025.8" y2="697.5" stroke="#2e93fc" stroke-width="4.0" />
<rect x="1018.3" y="663.1" width="15" height="15" fill="#2e93fc"/>
<line x1="1070.2" y1="707.4" x2="1142.0" y2="707.4" stroke="#fc9003" stroke-width="4.0" />
<line x1="1070.2" y1="765.6" x2="1142.0" y2="765.6" stroke="#fc9003" stroke-width="4.0" />
<line x1="1106.1" y1="707.4" x2="1106.1" y2="765.6" stroke="#fc9003" stroke-width="4.0" />
<polygon points="1106.1,729.0 1113.8,736.7 1106.1,744.5 1098.3,736.7" fill="#fc9003"/>
<line x1="1033.9" y1="631.0" x2="1098.2" y2="631.0" stroke="#000" stroke-width="4.3" />
<text transform="translate(1068.5,636.2) scale(1,1.035)" font-size="42" text-anchor="middle" font-weight="normal" fill="#000" stroke="#000" stroke-width="0.9" letter-spacing="4.8" stroke-linejoin="round">**</text>
<rect x="898.3" y="596.3" width="255.5" height="182.4" fill="none" stroke="#5c5c5c" stroke-width="2.3"/>
<line x1="897.3" y1="596.6" x2="1154.8" y2="596.6" stroke="#333" stroke-width="3.2" />
<line x1="945.6" y1="778.7" x2="945.6" y2="789.7" stroke="#3a3a3a" stroke-width="3" />
<text transform="translate(945.6,820.2) scale(1,1.035)" font-size="32" text-anchor="middle" font-weight="normal" fill="#4d4d4d" stroke="#4d4d4d" stroke-width="0.35" >CTL</text>
<line x1="1025.8" y1="778.7" x2="1025.8" y2="789.7" stroke="#3a3a3a" stroke-width="3" />
<text transform="translate(1025.8,820.2) scale(1,1.035)" font-size="32" text-anchor="middle" font-weight="normal" fill="#4d4d4d" stroke="#4d4d4d" stroke-width="0.35" >CHD</text>
<line x1="1106.1" y1="778.7" x2="1106.1" y2="789.7" stroke="#3a3a3a" stroke-width="3" />
<text transform="translate(1106.1,820.2) scale(1,1.035)" font-size="32" text-anchor="middle" font-weight="normal" fill="#4d4d4d" stroke="#4d4d4d" stroke-width="0.35" >PT</text>
<rect x="134.3" y="912.2" width="268.3" height="60.1" fill="#d9d9d9" stroke="#5c5c5c" stroke-width="2.3"/>
<text transform="translate(268.5,952.8) scale(1,1.035)" font-size="31.6" text-anchor="middle" font-weight="normal" fill="#1a1a1a" stroke="#1a1a1a" stroke-width="0.35" >CC Rostrum</text>
<rect x="134.3" y="972.3" width="268.3" height="227.3" fill="#fff" stroke="#5c5c5c" stroke-width="2.3"/>
<line x1="123.3" y1="1018.2" x2="134.3" y2="1018.2" stroke="#3a3a3a" stroke-width="3" />
<text transform="translate(115.6,1030.2) scale(1,1.035)" font-size="32" text-anchor="end" font-weight="normal" fill="#4d4d4d" stroke="#4d4d4d" stroke-width="0.35" >0.25</text>
<line x1="123.3" y1="1064.2" x2="134.3" y2="1064.2" stroke="#3a3a3a" stroke-width="3" />
<text transform="translate(115.6,1076.2) scale(1,1.035)" font-size="32" text-anchor="end" font-weight="normal" fill="#4d4d4d" stroke="#4d4d4d" stroke-width="0.35" >0.20</text>
<line x1="123.3" y1="1110.1" x2="134.3" y2="1110.1" stroke="#3a3a3a" stroke-width="3" />
<text transform="translate(115.6,1122.1) scale(1,1.035)" font-size="32" text-anchor="end" font-weight="normal" fill="#4d4d4d" stroke="#4d4d4d" stroke-width="0.35" >0.15</text>
<line x1="123.3" y1="1155.8" x2="134.3" y2="1155.8" stroke="#3a3a3a" stroke-width="3" />
<text transform="translate(115.6,1167.8) scale(1,1.035)" font-size="32" text-anchor="end" font-weight="normal" fill="#4d4d4d" stroke="#4d4d4d" stroke-width="0.35" >0.10</text>
<line x1="158.7" y1="1056.5" x2="169.7" y2="1056.5" stroke="#636363" stroke-width="2.8" />
<line x1="158.7" y1="1068.5" x2="169.7" y2="1068.5" stroke="#636363" stroke-width="2.8" />
<line x1="164.2" y1="1056.5" x2="164.2" y2="1068.5" stroke="#636363" stroke-width="2.8" />
<line x1="210.6" y1="1118.3" x2="221.6" y2="1118.3" stroke="#636363" stroke-width="2.8" />
<line x1="210.6" y1="1130.3" x2="221.6" y2="1130.3" stroke="#636363" stroke-width="2.8" />
<line x1="216.1" y1="1118.3" x2="216.1" y2="1130.3" stroke="#636363" stroke-width="2.8" />
<line x1="262.6" y1="1170.3" x2="273.6" y2="1170.3" stroke="#636363" stroke-width="2.8" />
<line x1="262.6" y1="1182.3" x2="273.6" y2="1182.3" stroke="#636363" stroke-width="2.8" />
<line x1="268.1" y1="1170.3" x2="268.1" y2="1182.3" stroke="#636363" stroke-width="2.8" />
<line x1="314.6" y1="1129.3" x2="325.6" y2="1129.3" stroke="#636363" stroke-width="2.8" />
<line x1="314.6" y1="1141.3" x2="325.6" y2="1141.3" stroke="#636363" stroke-width="2.8" />
<line x1="320.1" y1="1129.3" x2="320.1" y2="1141.3" stroke="#636363" stroke-width="2.8" />
<line x1="366.6" y1="1048.6" x2="377.6" y2="1048.6" stroke="#636363" stroke-width="2.8" />
<line x1="366.6" y1="1060.6" x2="377.6" y2="1060.6" stroke="#636363" stroke-width="2.8" />
<line x1="372.1" y1="1048.6" x2="372.1" y2="1060.6" stroke="#636363" stroke-width="2.8" />
<line x1="158.7" y1="1046.6" x2="169.7" y2="1046.6" stroke="#2e93fc" stroke-width="2.8" />
<line x1="158.7" y1="1062.6" x2="169.7" y2="1062.6" stroke="#2e93fc" stroke-width="2.8" />
<line x1="164.2" y1="1046.6" x2="164.2" y2="1062.6" stroke="#2e93fc" stroke-width="2.8" />
<line x1="210.6" y1="1116.0" x2="221.6" y2="1116.0" stroke="#2e93fc" stroke-width="2.8" />
<line x1="210.6" y1="1128.0" x2="221.6" y2="1128.0" stroke="#2e93fc" stroke-width="2.8" />
<line x1="216.1" y1="1116.0" x2="216.1" y2="1128.0" stroke="#2e93fc" stroke-width="2.8" />
<line x1="262.6" y1="1156.5" x2="273.6" y2="1156.5" stroke="#2e93fc" stroke-width="2.8" />
<line x1="262.6" y1="1168.5" x2="273.6" y2="1168.5" stroke="#2e93fc" stroke-width="2.8" />
<line x1="268.1" y1="1156.5" x2="268.1" y2="1168.5" stroke="#2e93fc" stroke-width="2.8" />
<line x1="314.6" y1="1125.3" x2="325.6" y2="1125.3" stroke="#2e93fc" stroke-width="2.8" />
<line x1="314.6" y1="1137.3" x2="325.6" y2="1137.3" stroke="#2e93fc" stroke-width="2.8" />
<line x1="320.1" y1="1125.3" x2="320.1" y2="1137.3" stroke="#2e93fc" stroke-width="2.8" />
<line x1="366.6" y1="1041.5" x2="377.6" y2="1041.5" stroke="#2e93fc" stroke-width="2.8" />
<line x1="366.6" y1="1059.5" x2="377.6" y2="1059.5" stroke="#2e93fc" stroke-width="2.8" />
<line x1="372.1" y1="1041.5" x2="372.1" y2="1059.5" stroke="#2e93fc" stroke-width="2.8" />
<line x1="158.7" y1="1066.4" x2="169.7" y2="1066.4" stroke="#fc9003" stroke-width="2.8" />
<line x1="158.7" y1="1078.4" x2="169.7" y2="1078.4" stroke="#fc9003" stroke-width="2.8" />
<line x1="164.2" y1="1066.4" x2="164.2" y2="1078.4" stroke="#fc9003" stroke-width="2.8" />
<line x1="210.6" y1="1130.0" x2="221.6" y2="1130.0" stroke="#fc9003" stroke-width="2.8" />
<line x1="210.6" y1="1142.0" x2="221.6" y2="1142.0" stroke="#fc9003" stroke-width="2.8" />
<line x1="216.1" y1="1130.0" x2="216.1" y2="1142.0" stroke="#fc9003" stroke-width="2.8" />
<line x1="262.6" y1="1172.5" x2="273.6" y2="1172.5" stroke="#fc9003" stroke-width="2.8" />
<line x1="262.6" y1="1184.5" x2="273.6" y2="1184.5" stroke="#fc9003" stroke-width="2.8" />
<line x1="268.1" y1="1172.5" x2="268.1" y2="1184.5" stroke="#fc9003" stroke-width="2.8" />
<line x1="314.6" y1="1141.6" x2="325.6" y2="1141.6" stroke="#fc9003" stroke-width="2.8" />
<line x1="314.6" y1="1153.6" x2="325.6" y2="1153.6" stroke="#fc9003" stroke-width="2.8" />
<line x1="320.1" y1="1141.6" x2="320.1" y2="1153.6" stroke="#fc9003" stroke-width="2.8" />
<line x1="366.6" y1="1067.5" x2="377.6" y2="1067.5" stroke="#fc9003" stroke-width="2.8" />
<line x1="366.6" y1="1085.5" x2="377.6" y2="1085.5" stroke="#fc9003" stroke-width="2.8" />
<line x1="372.1" y1="1067.5" x2="372.1" y2="1085.5" stroke="#fc9003" stroke-width="2.8" />
<circle cx="164.2" cy="1062.5" r="6.6" fill="#636363"/>
<circle cx="216.1" cy="1124.3" r="6.6" fill="#636363"/>
<circle cx="268.1" cy="1176.3" r="6.6" fill="#636363"/>
<circle cx="320.1" cy="1135.3" r="6.6" fill="#636363"/>
<circle cx="372.1" cy="1054.6" r="6.6" fill="#636363"/>
<rect x="157.5" y="1047.8" width="13.5" height="13.5" fill="#2e93fc"/>
<rect x="209.4" y="1115.2" width="13.5" height="13.5" fill="#2e93fc"/>
<rect x="261.4" y="1155.8" width="13.5" height="13.5" fill="#2e93fc"/>
<rect x="313.4" y="1124.5" width="13.5" height="13.5" fill="#2e93fc"/>
<rect x="365.4" y="1043.8" width="13.5" height="13.5" fill="#2e93fc"/>
<polygon points="164.2,1065.2 171.5,1072.4 164.2,1079.7 157.0,1072.4" fill="#fc9003"/>
<polygon points="216.1,1128.8 223.4,1136.0 216.1,1143.2 208.9,1136.0" fill="#fc9003"/>
<polygon points="268.1,1171.2 275.4,1178.5 268.1,1185.8 260.9,1178.5" fill="#fc9003"/>
<polygon points="320.1,1140.3 327.4,1147.6 320.1,1154.8 312.9,1147.6" fill="#fc9003"/>
<polygon points="372.1,1069.2 379.4,1076.5 372.1,1083.8 364.9,1076.5" fill="#fc9003"/>
<polyline points="164.2,1062.5 216.1,1124.3 268.1,1176.3 320.1,1135.3 372.1,1054.6" fill="none" stroke="#636363" stroke-width="3.3"  stroke-linejoin="round"/>
<polyline points="164.2,1054.6 216.1,1122.0 268.1,1162.5 320.1,1131.3 372.1,1050.5" fill="none" stroke="#2e93fc" stroke-width="3.3" stroke-dasharray="8.3 8.3" stroke-linejoin="round"/>
<polyline points="164.2,1072.4 216.1,1136.0 268.1,1178.5 320.1,1147.6 372.1,1076.5" fill="none" stroke="#fc9003" stroke-width="3.3" stroke-dasharray="16.4 8.2" stroke-linejoin="round"/>
<text transform="translate(268.1,1152.5) scale(1,1.035)" font-size="27" text-anchor="middle" font-weight="normal" fill="#000" stroke="#000" stroke-width="0.5" >+</text>
<text transform="translate(320.1,1119.7) scale(1,1.035)" font-size="27" text-anchor="middle" font-weight="normal" fill="#000" stroke="#000" stroke-width="0.5" >+</text>
<text transform="translate(372.1,1017.0) scale(1,1.035)" font-size="27" text-anchor="middle" font-weight="normal" fill="#000" stroke="#000" stroke-width="0.5" >##</text>
<text transform="translate(372.1,1037.6) scale(1,1.035)" font-size="27" text-anchor="middle" font-weight="normal" fill="#000" stroke="#000" stroke-width="0.5" >++</text>
<rect x="134.3" y="972.3" width="268.3" height="227.3" fill="none" stroke="#5c5c5c" stroke-width="2.3"/>
<line x1="133.3" y1="972.6" x2="403.6" y2="972.6" stroke="#333" stroke-width="3.2" />
<line x1="164.2" y1="1199.6" x2="164.2" y2="1210.6" stroke="#3a3a3a" stroke-width="3" />
<text transform="translate(164.2,1241.1) scale(1,1.035)" font-size="32" text-anchor="middle" font-weight="normal" fill="#4d4d4d" stroke="#4d4d4d" stroke-width="0.35" >1</text>
<line x1="216.1" y1="1199.6" x2="216.1" y2="1210.6" stroke="#3a3a3a" stroke-width="3" />
<text transform="translate(216.1,1241.1) scale(1,1.035)" font-size="32" text-anchor="middle" font-weight="normal" fill="#4d4d4d" stroke="#4d4d4d" stroke-width="0.35" >2</text>
<line x1="268.1" y1="1199.6" x2="268.1" y2="1210.6" stroke="#3a3a3a" stroke-width="3" />
<text transform="translate(268.1,1241.1) scale(1,1.035)" font-size="32" text-anchor="middle" font-weight="normal" fill="#4d4d4d" stroke="#4d4d4d" stroke-width="0.35" >3</text>
<line x1="320.1" y1="1199.6" x2="320.1" y2="1210.6" stroke="#3a3a3a" stroke-width="3" />
<text transform="translate(320.1,1241.1) scale(1,1.035)" font-size="32" text-anchor="middle" font-weight="normal" fill="#4d4d4d" stroke="#4d4d4d" stroke-width="0.35" >4</text>
<line x1="372.1" y1="1199.6" x2="372.1" y2="1210.6" stroke="#3a3a3a" stroke-width="3" />
<text transform="translate(372.1,1241.1) scale(1,1.035)" font-size="32" text-anchor="middle" font-weight="normal" fill="#4d4d4d" stroke="#4d4d4d" stroke-width="0.35" >5</text>
<rect x="503.7" y="912.2" width="268.3" height="60.1" fill="#d9d9d9" stroke="#5c5c5c" stroke-width="2.3"/>
<text transform="translate(637.9,952.8) scale(1,1.035)" font-size="31.6" text-anchor="middle" font-weight="normal" fill="#1a1a1a" stroke="#1a1a1a" stroke-width="0.35" >CC Mid–body (P)</text>
<rect x="503.7" y="972.3" width="268.3" height="227.3" fill="#fff" stroke="#5c5c5c" stroke-width="2.3"/>
<line x1="492.7" y1="973.5" x2="503.7" y2="973.5" stroke="#3a3a3a" stroke-width="3" />
<text transform="translate(485.0,985.5) scale(1,1.035)" font-size="32" text-anchor="end" font-weight="normal" fill="#4d4d4d" stroke="#4d4d4d" stroke-width="0.35" >0.25</text>
<line x1="492.7" y1="1024.3" x2="503.7" y2="1024.3" stroke="#3a3a3a" stroke-width="3" />
<text transform="translate(485.0,1036.3) scale(1,1.035)" font-size="32" text-anchor="end" font-weight="normal" fill="#4d4d4d" stroke="#4d4d4d" stroke-width="0.35" >0.20</text>
<line x1="492.7" y1="1075.1" x2="503.7" y2="1075.1" stroke="#3a3a3a" stroke-width="3" />
<text transform="translate(485.0,1087.1) scale(1,1.035)" font-size="32" text-anchor="end" font-weight="normal" fill="#4d4d4d" stroke="#4d4d4d" stroke-width="0.35" >0.15</text>
<line x1="492.7" y1="1126.2" x2="503.7" y2="1126.2" stroke="#3a3a3a" stroke-width="3" />
<text transform="translate(485.0,1138.2) scale(1,1.035)" font-size="32" text-anchor="end" font-weight="normal" fill="#4d4d4d" stroke="#4d4d4d" stroke-width="0.35" >0.10</text>
<line x1="492.7" y1="1177.0" x2="503.7" y2="1177.0" stroke="#3a3a3a" stroke-width="3" />
<text transform="translate(485.0,1189.0) scale(1,1.035)" font-size="32" text-anchor="end" font-weight="normal" fill="#4d4d4d" stroke="#4d4d4d" stroke-width="0.35" >0.05</text>
<line x1="528.1" y1="1015.2" x2="539.1" y2="1015.2" stroke="#636363" stroke-width="2.8" />
<line x1="528.1" y1="1027.2" x2="539.1" y2="1027.2" stroke="#636363" stroke-width="2.8" />
<line x1="533.6" y1="1015.2" x2="533.6" y2="1027.2" stroke="#636363" stroke-width="2.8" />
<line x1="580.0" y1="1088.1" x2="591.0" y2="1088.1" stroke="#636363" stroke-width="2.8" />
<line x1="580.0" y1="1100.1" x2="591.0" y2="1100.1" stroke="#636363" stroke-width="2.8" />
<line x1="585.5" y1="1088.1" x2="585.5" y2="1100.1" stroke="#636363" stroke-width="2.8" />
<line x1="632.0" y1="1163.6" x2="643.0" y2="1163.6" stroke="#636363" stroke-width="2.8" />
<line x1="632.0" y1="1183.6" x2="643.0" y2="1183.6" stroke="#636363" stroke-width="2.8" />
<line x1="637.5" y1="1163.6" x2="637.5" y2="1183.6" stroke="#636363" stroke-width="2.8" />
<line x1="684.0" y1="1090.7" x2="695.0" y2="1090.7" stroke="#636363" stroke-width="2.8" />
<line x1="684.0" y1="1102.7" x2="695.0" y2="1102.7" stroke="#636363" stroke-width="2.8" />
<line x1="689.5" y1="1090.7" x2="689.5" y2="1102.7" stroke="#636363" stroke-width="2.8" />
<line x1="736.0" y1="1016.5" x2="747.0" y2="1016.5" stroke="#636363" stroke-width="2.8" />
<line x1="736.0" y1="1028.5" x2="747.0" y2="1028.5" stroke="#636363" stroke-width="2.8" />
<line x1="741.5" y1="1016.5" x2="741.5" y2="1028.5" stroke="#636363" stroke-width="2.8" />
<line x1="528.1" y1="1015.2" x2="539.1" y2="1015.2" stroke="#2e93fc" stroke-width="2.8" />
<line x1="528.1" y1="1027.2" x2="539.1" y2="1027.2" stroke="#2e93fc" stroke-width="2.8" />
<line x1="533.6" y1="1015.2" x2="533.6" y2="1027.2" stroke="#2e93fc" stroke-width="2.8" />
<line x1="580.0" y1="1085.5" x2="591.0" y2="1085.5" stroke="#2e93fc" stroke-width="2.8" />
<line x1="580.0" y1="1097.5" x2="591.0" y2="1097.5" stroke="#2e93fc" stroke-width="2.8" />
<line x1="585.5" y1="1085.5" x2="585.5" y2="1097.5" stroke="#2e93fc" stroke-width="2.8" />
<line x1="632.0" y1="1148.1" x2="643.0" y2="1148.1" stroke="#2e93fc" stroke-width="2.8" />
<line x1="632.0" y1="1160.1" x2="643.0" y2="1160.1" stroke="#2e93fc" stroke-width="2.8" />
<line x1="637.5" y1="1148.1" x2="637.5" y2="1160.1" stroke="#2e93fc" stroke-width="2.8" />
<line x1="684.0" y1="1081.6" x2="695.0" y2="1081.6" stroke="#2e93fc" stroke-width="2.8" />
<line x1="684.0" y1="1093.6" x2="695.0" y2="1093.6" stroke="#2e93fc" stroke-width="2.8" />
<line x1="689.5" y1="1081.6" x2="689.5" y2="1093.6" stroke="#2e93fc" stroke-width="2.8" />
<line x1="736.0" y1="1015.2" x2="747.0" y2="1015.2" stroke="#2e93fc" stroke-width="2.8" />
<line x1="736.0" y1="1027.2" x2="747.0" y2="1027.2" stroke="#2e93fc" stroke-width="2.8" />
<line x1="741.5" y1="1015.2" x2="741.5" y2="1027.2" stroke="#2e93fc" stroke-width="2.8" />
<line x1="528.1" y1="1012.6" x2="539.1" y2="1012.6" stroke="#fc9003" stroke-width="2.8" />
<line x1="528.1" y1="1024.6" x2="539.1" y2="1024.6" stroke="#fc9003" stroke-width="2.8" />
<line x1="533.6" y1="1012.6" x2="533.6" y2="1024.6" stroke="#fc9003" stroke-width="2.8" />
<line x1="580.0" y1="1077.7" x2="591.0" y2="1077.7" stroke="#fc9003" stroke-width="2.8" />
<line x1="580.0" y1="1089.7" x2="591.0" y2="1089.7" stroke="#fc9003" stroke-width="2.8" />
<line x1="585.5" y1="1077.7" x2="585.5" y2="1089.7" stroke="#fc9003" stroke-width="2.8" />
<line x1="632.0" y1="1137.6" x2="643.0" y2="1137.6" stroke="#fc9003" stroke-width="2.8" />
<line x1="632.0" y1="1149.6" x2="643.0" y2="1149.6" stroke="#fc9003" stroke-width="2.8" />
<line x1="637.5" y1="1137.6" x2="637.5" y2="1149.6" stroke="#fc9003" stroke-width="2.8" />
<line x1="684.0" y1="1080.3" x2="695.0" y2="1080.3" stroke="#fc9003" stroke-width="2.8" />
<line x1="684.0" y1="1092.3" x2="695.0" y2="1092.3" stroke="#fc9003" stroke-width="2.8" />
<line x1="689.5" y1="1080.3" x2="689.5" y2="1092.3" stroke="#fc9003" stroke-width="2.8" />
<line x1="736.0" y1="1010.0" x2="747.0" y2="1010.0" stroke="#fc9003" stroke-width="2.8" />
<line x1="736.0" y1="1022.0" x2="747.0" y2="1022.0" stroke="#fc9003" stroke-width="2.8" />
<line x1="741.5" y1="1010.0" x2="741.5" y2="1022.0" stroke="#fc9003" stroke-width="2.8" />
<circle cx="533.6" cy="1021.2" r="6.6" fill="#636363"/>
<circle cx="585.5" cy="1094.1" r="6.6" fill="#636363"/>
<circle cx="637.5" cy="1173.6" r="6.6" fill="#636363"/>
<circle cx="689.5" cy="1096.7" r="6.6" fill="#636363"/>
<circle cx="741.5" cy="1022.5" r="6.6" fill="#636363"/>
<rect x="526.9" y="1014.5" width="13.5" height="13.5" fill="#2e93fc"/>
<rect x="578.8" y="1084.8" width="13.5" height="13.5" fill="#2e93fc"/>
<rect x="630.8" y="1147.3" width="13.5" height="13.5" fill="#2e93fc"/>
<rect x="682.8" y="1080.8" width="13.5" height="13.5" fill="#2e93fc"/>
<rect x="734.8" y="1014.5" width="13.5" height="13.5" fill="#2e93fc"/>
<polygon points="533.6,1011.4 540.9,1018.6 533.6,1025.8 526.4,1018.6" fill="#fc9003"/>
<polygon points="585.5,1076.5 592.8,1083.7 585.5,1091.0 578.2,1083.7" fill="#fc9003"/>
<polygon points="637.5,1136.3 644.8,1143.6 637.5,1150.8 630.2,1143.6" fill="#fc9003"/>
<polygon points="689.5,1079.0 696.8,1086.3 689.5,1093.5 682.2,1086.3" fill="#fc9003"/>
<polygon points="741.5,1008.8 748.8,1016.0 741.5,1023.2 734.2,1016.0" fill="#fc9003"/>
<polyline points="533.6,1021.2 585.5,1094.1 637.5,1173.6 689.5,1096.7 741.5,1022.5" fill="none" stroke="#636363" stroke-width="3.3"  stroke-linejoin="round"/>
<polyline points="533.6,1021.2 585.5,1091.5 637.5,1154.1 689.5,1087.6 741.5,1021.2" fill="none" stroke="#2e93fc" stroke-width="3.3" stroke-dasharray="8.3 8.3" stroke-linejoin="round"/>
<polyline points="533.6,1018.6 585.5,1083.7 637.5,1143.6 689.5,1086.3 741.5,1016.0" fill="none" stroke="#fc9003" stroke-width="3.3" stroke-dasharray="16.4 8.2" stroke-linejoin="round"/>
<text transform="translate(637.5,1126.6) scale(1,1.035)" font-size="27" text-anchor="middle" font-weight="normal" fill="#000" stroke="#000" stroke-width="0.5" >##</text>
<rect x="503.7" y="972.3" width="268.3" height="227.3" fill="none" stroke="#5c5c5c" stroke-width="2.3"/>
<line x1="502.7" y1="972.6" x2="773.0" y2="972.6" stroke="#333" stroke-width="3.2" />
<line x1="533.6" y1="1199.6" x2="533.6" y2="1210.6" stroke="#3a3a3a" stroke-width="3" />
<text transform="translate(533.6,1241.1) scale(1,1.035)" font-size="32" text-anchor="middle" font-weight="normal" fill="#4d4d4d" stroke="#4d4d4d" stroke-width="0.35" >1</text>
<line x1="585.5" y1="1199.6" x2="585.5" y2="1210.6" stroke="#3a3a3a" stroke-width="3" />
<text transform="translate(585.5,1241.1) scale(1,1.035)" font-size="32" text-anchor="middle" font-weight="normal" fill="#4d4d4d" stroke="#4d4d4d" stroke-width="0.35" >2</text>
<line x1="637.5" y1="1199.6" x2="637.5" y2="1210.6" stroke="#3a3a3a" stroke-width="3" />
<text transform="translate(637.5,1241.1) scale(1,1.035)" font-size="32" text-anchor="middle" font-weight="normal" fill="#4d4d4d" stroke="#4d4d4d" stroke-width="0.35" >3</text>
<line x1="689.5" y1="1199.6" x2="689.5" y2="1210.6" stroke="#3a3a3a" stroke-width="3" />
<text transform="translate(689.5,1241.1) scale(1,1.035)" font-size="32" text-anchor="middle" font-weight="normal" fill="#4d4d4d" stroke="#4d4d4d" stroke-width="0.35" >4</text>
<line x1="741.5" y1="1199.6" x2="741.5" y2="1210.6" stroke="#3a3a3a" stroke-width="3" />
<text transform="translate(741.5,1241.1) scale(1,1.035)" font-size="32" text-anchor="middle" font-weight="normal" fill="#4d4d4d" stroke="#4d4d4d" stroke-width="0.35" >5</text>
<rect x="872.1" y="912.2" width="268.3" height="60.1" fill="#d9d9d9" stroke="#5c5c5c" stroke-width="2.3"/>
<text transform="translate(1006.2,952.8) scale(1,1.035)" font-size="31.6" text-anchor="middle" font-weight="normal" fill="#1a1a1a" stroke="#1a1a1a" stroke-width="0.35" >CR (L)</text>
<rect x="872.1" y="972.3" width="268.3" height="227.3" fill="#fff" stroke="#5c5c5c" stroke-width="2.3"/>
<line x1="861.1" y1="1001.5" x2="872.1" y2="1001.5" stroke="#3a3a3a" stroke-width="3" />
<text transform="translate(853.4,1013.5) scale(1,1.035)" font-size="32" text-anchor="end" font-weight="normal" fill="#4d4d4d" stroke="#4d4d4d" stroke-width="0.35" >0.30</text>
<line x1="861.1" y1="1049.3" x2="872.1" y2="1049.3" stroke="#3a3a3a" stroke-width="3" />
<text transform="translate(853.4,1061.3) scale(1,1.035)" font-size="32" text-anchor="end" font-weight="normal" fill="#4d4d4d" stroke="#4d4d4d" stroke-width="0.35" >0.25</text>
<line x1="861.1" y1="1097.3" x2="872.1" y2="1097.3" stroke="#3a3a3a" stroke-width="3" />
<text transform="translate(853.4,1109.3) scale(1,1.035)" font-size="32" text-anchor="end" font-weight="normal" fill="#4d4d4d" stroke="#4d4d4d" stroke-width="0.35" >0.20</text>
<line x1="861.1" y1="1144.6" x2="872.1" y2="1144.6" stroke="#3a3a3a" stroke-width="3" />
<text transform="translate(853.4,1156.6) scale(1,1.035)" font-size="32" text-anchor="end" font-weight="normal" fill="#4d4d4d" stroke="#4d4d4d" stroke-width="0.35" >0.15</text>
<line x1="861.1" y1="1192.6" x2="872.1" y2="1192.6" stroke="#3a3a3a" stroke-width="3" />
<text transform="translate(853.4,1204.6) scale(1,1.035)" font-size="32" text-anchor="end" font-weight="normal" fill="#4d4d4d" stroke="#4d4d4d" stroke-width="0.35" >0.10</text>
<line x1="896.5" y1="1012.8" x2="907.5" y2="1012.8" stroke="#636363" stroke-width="2.8" />
<line x1="896.5" y1="1034.8" x2="907.5" y2="1034.8" stroke="#636363" stroke-width="2.8" />
<line x1="902.0" y1="1012.8" x2="902.0" y2="1034.8" stroke="#636363" stroke-width="2.8" />
<line x1="948.4" y1="1139.1" x2="959.4" y2="1139.1" stroke="#636363" stroke-width="2.8" />
<line x1="948.4" y1="1151.1" x2="959.4" y2="1151.1" stroke="#636363" stroke-width="2.8" />
<line x1="953.9" y1="1139.1" x2="953.9" y2="1151.1" stroke="#636363" stroke-width="2.8" />
<line x1="1000.4" y1="1168.8" x2="1011.4" y2="1168.8" stroke="#636363" stroke-width="2.8" />
<line x1="1000.4" y1="1180.8" x2="1011.4" y2="1180.8" stroke="#636363" stroke-width="2.8" />
<line x1="1005.9" y1="1168.8" x2="1005.9" y2="1180.8" stroke="#636363" stroke-width="2.8" />
<line x1="1052.4" y1="1062.3" x2="1063.4" y2="1062.3" stroke="#636363" stroke-width="2.8" />
<line x1="1052.4" y1="1074.3" x2="1063.4" y2="1074.3" stroke="#636363" stroke-width="2.8" />
<line x1="1057.9" y1="1062.3" x2="1057.9" y2="1074.3" stroke="#636363" stroke-width="2.8" />
<line x1="1104.4" y1="1102.0" x2="1115.4" y2="1102.0" stroke="#636363" stroke-width="2.8" />
<line x1="1104.4" y1="1114.0" x2="1115.4" y2="1114.0" stroke="#636363" stroke-width="2.8" />
<line x1="1109.9" y1="1102.0" x2="1109.9" y2="1114.0" stroke="#636363" stroke-width="2.8" />
<line x1="896.5" y1="1011.5" x2="907.5" y2="1011.5" stroke="#2e93fc" stroke-width="2.8" />
<line x1="896.5" y1="1033.5" x2="907.5" y2="1033.5" stroke="#2e93fc" stroke-width="2.8" />
<line x1="902.0" y1="1011.5" x2="902.0" y2="1033.5" stroke="#2e93fc" stroke-width="2.8" />
<line x1="948.4" y1="1137.8" x2="959.4" y2="1137.8" stroke="#2e93fc" stroke-width="2.8" />
<line x1="948.4" y1="1149.8" x2="959.4" y2="1149.8" stroke="#2e93fc" stroke-width="2.8" />
<line x1="953.9" y1="1137.8" x2="953.9" y2="1149.8" stroke="#2e93fc" stroke-width="2.8" />
<line x1="1000.4" y1="1163.8" x2="1011.4" y2="1163.8" stroke="#2e93fc" stroke-width="2.8" />
<line x1="1000.4" y1="1175.8" x2="1011.4" y2="1175.8" stroke="#2e93fc" stroke-width="2.8" />
<line x1="1005.9" y1="1163.8" x2="1005.9" y2="1175.8" stroke="#2e93fc" stroke-width="2.8" />
<line x1="1052.4" y1="1069.8" x2="1063.4" y2="1069.8" stroke="#2e93fc" stroke-width="2.8" />
<line x1="1052.4" y1="1081.8" x2="1063.4" y2="1081.8" stroke="#2e93fc" stroke-width="2.8" />
<line x1="1057.9" y1="1069.8" x2="1057.9" y2="1081.8" stroke="#2e93fc" stroke-width="2.8" />
<line x1="1104.4" y1="1103.2" x2="1115.4" y2="1103.2" stroke="#2e93fc" stroke-width="2.8" />
<line x1="1104.4" y1="1115.2" x2="1115.4" y2="1115.2" stroke="#2e93fc" stroke-width="2.8" />
<line x1="1109.9" y1="1103.2" x2="1109.9" y2="1115.2" stroke="#2e93fc" stroke-width="2.8" />
<line x1="896.5" y1="1020.2" x2="907.5" y2="1020.2" stroke="#fc9003" stroke-width="2.8" />
<line x1="896.5" y1="1042.2" x2="907.5" y2="1042.2" stroke="#fc9003" stroke-width="2.8" />
<line x1="902.0" y1="1020.2" x2="902.0" y2="1042.2" stroke="#fc9003" stroke-width="2.8" />
<line x1="948.4" y1="1149.0" x2="959.4" y2="1149.0" stroke="#fc9003" stroke-width="2.8" />
<line x1="948.4" y1="1161.0" x2="959.4" y2="1161.0" stroke="#fc9003" stroke-width="2.8" />
<line x1="953.9" y1="1149.0" x2="953.9" y2="1161.0" stroke="#fc9003" stroke-width="2.8" />
<line x1="1000.4" y1="1172.5" x2="1011.4" y2="1172.5" stroke="#fc9003" stroke-width="2.8" />
<line x1="1000.4" y1="1184.5" x2="1011.4" y2="1184.5" stroke="#fc9003" stroke-width="2.8" />
<line x1="1005.9" y1="1172.5" x2="1005.9" y2="1184.5" stroke="#fc9003" stroke-width="2.8" />
<line x1="1052.4" y1="1085.9" x2="1063.4" y2="1085.9" stroke="#fc9003" stroke-width="2.8" />
<line x1="1052.4" y1="1097.9" x2="1063.4" y2="1097.9" stroke="#fc9003" stroke-width="2.8" />
<line x1="1057.9" y1="1085.9" x2="1057.9" y2="1097.9" stroke="#fc9003" stroke-width="2.8" />
<line x1="1104.4" y1="1100.7" x2="1115.4" y2="1100.7" stroke="#fc9003" stroke-width="2.8" />
<line x1="1104.4" y1="1112.7" x2="1115.4" y2="1112.7" stroke="#fc9003" stroke-width="2.8" />
<line x1="1109.9" y1="1100.7" x2="1109.9" y2="1112.7" stroke="#fc9003" stroke-width="2.8" />
<circle cx="902.0" cy="1023.8" r="6.6" fill="#636363"/>
<circle cx="953.9" cy="1145.1" r="6.6" fill="#636363"/>
<circle cx="1005.9" cy="1174.8" r="6.6" fill="#636363"/>
<circle cx="1057.9" cy="1068.3" r="6.6" fill="#636363"/>
<circle cx="1109.9" cy="1108.0" r="6.6" fill="#636363"/>
<rect x="895.2" y="1015.8" width="13.5" height="13.5" fill="#2e93fc"/>
<rect x="947.1" y="1137.0" width="13.5" height="13.5" fill="#2e93fc"/>
<rect x="999.2" y="1163.0" width="13.5" height="13.5" fill="#2e93fc"/>
<rect x="1051.2" y="1069.0" width="13.5" height="13.5" fill="#2e93fc"/>
<rect x="1103.2" y="1102.5" width="13.5" height="13.5" fill="#2e93fc"/>
<polygon points="902.0,1024.0 909.2,1031.2 902.0,1038.5 894.8,1031.2" fill="#fc9003"/>
<polygon points="953.9,1147.8 961.1,1155.0 953.9,1162.2 946.6,1155.0" fill="#fc9003"/>
<polygon points="1005.9,1171.2 1013.2,1178.5 1005.9,1185.8 998.7,1178.5" fill="#fc9003"/>
<polygon points="1057.9,1084.7 1065.2,1091.9 1057.9,1099.2 1050.7,1091.9" fill="#fc9003"/>
<polygon points="1109.9,1099.5 1117.2,1106.7 1109.9,1114.0 1102.7,1106.7" fill="#fc9003"/>
<polyline points="902.0,1023.8 953.9,1145.1 1005.9,1174.8 1057.9,1068.3 1109.9,1108.0" fill="none" stroke="#636363" stroke-width="3.3"  stroke-linejoin="round"/>
<polyline points="902.0,1022.5 953.9,1143.8 1005.9,1169.8 1057.9,1075.8 1109.9,1109.2" fill="none" stroke="#2e93fc" stroke-width="3.3" stroke-dasharray="8.3 8.3" stroke-linejoin="round"/>
<polyline points="902.0,1031.2 953.9,1155.0 1005.9,1178.5 1057.9,1091.9 1109.9,1106.7" fill="none" stroke="#fc9003" stroke-width="3.3" stroke-dasharray="16.4 8.2" stroke-linejoin="round"/>
<text transform="translate(1057.9,1031.5) scale(1,1.035)" font-size="27" text-anchor="middle" font-weight="normal" fill="#000" stroke="#000" stroke-width="0.5" >###</text>
<text transform="translate(1057.9,1056.3) scale(1,1.035)" font-size="27" text-anchor="middle" font-weight="normal" fill="#000" stroke="#000" stroke-width="0.5" >+</text>
<rect x="872.1" y="972.3" width="268.3" height="227.3" fill="none" stroke="#5c5c5c" stroke-width="2.3"/>
<line x1="871.1" y1="972.6" x2="1141.4" y2="972.6" stroke="#333" stroke-width="3.2" />
<line x1="902.0" y1="1199.6" x2="902.0" y2="1210.6" stroke="#3a3a3a" stroke-width="3" />
<text transform="translate(902.0,1241.1) scale(1,1.035)" font-size="32" text-anchor="middle" font-weight="normal" fill="#4d4d4d" stroke="#4d4d4d" stroke-width="0.35" >1</text>
<line x1="953.9" y1="1199.6" x2="953.9" y2="1210.6" stroke="#3a3a3a" stroke-width="3" />
<text transform="translate(953.9,1241.1) scale(1,1.035)" font-size="32" text-anchor="middle" font-weight="normal" fill="#4d4d4d" stroke="#4d4d4d" stroke-width="0.35" >2</text>
<line x1="1005.9" y1="1199.6" x2="1005.9" y2="1210.6" stroke="#3a3a3a" stroke-width="3" />
<text transform="translate(1005.9,1241.1) scale(1,1.035)" font-size="32" text-anchor="middle" font-weight="normal" fill="#4d4d4d" stroke="#4d4d4d" stroke-width="0.35" >3</text>
<line x1="1057.9" y1="1199.6" x2="1057.9" y2="1210.6" stroke="#3a3a3a" stroke-width="3" />
<text transform="translate(1057.9,1241.1) scale(1,1.035)" font-size="32" text-anchor="middle" font-weight="normal" fill="#4d4d4d" stroke="#4d4d4d" stroke-width="0.35" >4</text>
<line x1="1109.9" y1="1199.6" x2="1109.9" y2="1210.6" stroke="#3a3a3a" stroke-width="3" />
<text transform="translate(1109.9,1241.1) scale(1,1.035)" font-size="32" text-anchor="middle" font-weight="normal" fill="#4d4d4d" stroke="#4d4d4d" stroke-width="0.35" >5</text>
<rect x="1258.5" y="912.2" width="268.3" height="60.1" fill="#d9d9d9" stroke="#5c5c5c" stroke-width="2.3"/>
<text transform="translate(1392.7,952.8) scale(1,1.035)" font-size="31.6" text-anchor="middle" font-weight="normal" fill="#1a1a1a" stroke="#1a1a1a" stroke-width="0.35" >CR (R)</text>
<rect x="1258.5" y="972.3" width="268.3" height="227.3" fill="#fff" stroke="#5c5c5c" stroke-width="2.3"/>
<line x1="1247.5" y1="997.3" x2="1258.5" y2="997.3" stroke="#3a3a3a" stroke-width="3" />
<text transform="translate(1239.8,1009.3) scale(1,1.035)" font-size="32" text-anchor="end" font-weight="normal" fill="#4d4d4d" stroke="#4d4d4d" stroke-width="0.35" >0.30</text>
<line x1="1247.5" y1="1046.0" x2="1258.5" y2="1046.0" stroke="#3a3a3a" stroke-width="3" />
<text transform="translate(1239.8,1058.0) scale(1,1.035)" font-size="32" text-anchor="end" font-weight="normal" fill="#4d4d4d" stroke="#4d4d4d" stroke-width="0.35" >0.25</text>
<line x1="1247.5" y1="1094.8" x2="1258.5" y2="1094.8" stroke="#3a3a3a" stroke-width="3" />
<text transform="translate(1239.8,1106.8) scale(1,1.035)" font-size="32" text-anchor="end" font-weight="normal" fill="#4d4d4d" stroke="#4d4d4d" stroke-width="0.35" >0.20</text>
<line x1="1247.5" y1="1143.1" x2="1258.5" y2="1143.1" stroke="#3a3a3a" stroke-width="3" />
<text transform="translate(1239.8,1155.1) scale(1,1.035)" font-size="32" text-anchor="end" font-weight="normal" fill="#4d4d4d" stroke="#4d4d4d" stroke-width="0.35" >0.15</text>
<line x1="1247.5" y1="1192.1" x2="1258.5" y2="1192.1" stroke="#3a3a3a" stroke-width="3" />
<text transform="translate(1239.8,1204.1) scale(1,1.035)" font-size="32" text-anchor="end" font-weight="normal" fill="#4d4d4d" stroke="#4d4d4d" stroke-width="0.35" >0.10</text>
<line x1="1282.9" y1="1008.5" x2="1293.9" y2="1008.5" stroke="#636363" stroke-width="2.8" />
<line x1="1282.9" y1="1032.5" x2="1293.9" y2="1032.5" stroke="#636363" stroke-width="2.8" />
<line x1="1288.4" y1="1008.5" x2="1288.4" y2="1032.5" stroke="#636363" stroke-width="2.8" />
<line x1="1334.8" y1="1139.1" x2="1345.8" y2="1139.1" stroke="#636363" stroke-width="2.8" />
<line x1="1334.8" y1="1151.1" x2="1345.8" y2="1151.1" stroke="#636363" stroke-width="2.8" />
<line x1="1340.3" y1="1139.1" x2="1340.3" y2="1151.1" stroke="#636363" stroke-width="2.8" />
<line x1="1386.8" y1="1168.8" x2="1397.8" y2="1168.8" stroke="#636363" stroke-width="2.8" />
<line x1="1386.8" y1="1180.8" x2="1397.8" y2="1180.8" stroke="#636363" stroke-width="2.8" />
<line x1="1392.3" y1="1168.8" x2="1392.3" y2="1180.8" stroke="#636363" stroke-width="2.8" />
<line x1="1438.8" y1="1074.7" x2="1449.8" y2="1074.7" stroke="#636363" stroke-width="2.8" />
<line x1="1438.8" y1="1086.7" x2="1449.8" y2="1086.7" stroke="#636363" stroke-width="2.8" />
<line x1="1444.3" y1="1074.7" x2="1444.3" y2="1086.7" stroke="#636363" stroke-width="2.8" />
<line x1="1490.8" y1="1099.5" x2="1501.8" y2="1099.5" stroke="#636363" stroke-width="2.8" />
<line x1="1490.8" y1="1111.5" x2="1501.8" y2="1111.5" stroke="#636363" stroke-width="2.8" />
<line x1="1496.3" y1="1099.5" x2="1496.3" y2="1111.5" stroke="#636363" stroke-width="2.8" />
<line x1="1282.9" y1="1021.0" x2="1293.9" y2="1021.0" stroke="#2e93fc" stroke-width="2.8" />
<line x1="1282.9" y1="1041.0" x2="1293.9" y2="1041.0" stroke="#2e93fc" stroke-width="2.8" />
<line x1="1288.4" y1="1021.0" x2="1288.4" y2="1041.0" stroke="#2e93fc" stroke-width="2.8" />
<line x1="1334.8" y1="1137.5" x2="1345.8" y2="1137.5" stroke="#2e93fc" stroke-width="2.8" />
<line x1="1334.8" y1="1149.5" x2="1345.8" y2="1149.5" stroke="#2e93fc" stroke-width="2.8" />
<line x1="1340.3" y1="1137.5" x2="1340.3" y2="1149.5" stroke="#2e93fc" stroke-width="2.8" />
<line x1="1386.8" y1="1168.5" x2="1397.8" y2="1168.5" stroke="#2e93fc" stroke-width="2.8" />
<line x1="1386.8" y1="1180.5" x2="1397.8" y2="1180.5" stroke="#2e93fc" stroke-width="2.8" />
<line x1="1392.3" y1="1168.5" x2="1392.3" y2="1180.5" stroke="#2e93fc" stroke-width="2.8" />
<line x1="1438.8" y1="1079.5" x2="1449.8" y2="1079.5" stroke="#2e93fc" stroke-width="2.8" />
<line x1="1438.8" y1="1091.5" x2="1449.8" y2="1091.5" stroke="#2e93fc" stroke-width="2.8" />
<line x1="1444.3" y1="1079.5" x2="1444.3" y2="1091.5" stroke="#2e93fc" stroke-width="2.8" />
<line x1="1490.8" y1="1098.5" x2="1501.8" y2="1098.5" stroke="#2e93fc" stroke-width="2.8" />
<line x1="1490.8" y1="1110.5" x2="1501.8" y2="1110.5" stroke="#2e93fc" stroke-width="2.8" />
<line x1="1496.3" y1="1098.5" x2="1496.3" y2="1110.5" stroke="#2e93fc" stroke-width="2.8" />
<line x1="1282.9" y1="1029.5" x2="1293.9" y2="1029.5" stroke="#fc9003" stroke-width="2.8" />
<line x1="1282.9" y1="1049.5" x2="1293.9" y2="1049.5" stroke="#fc9003" stroke-width="2.8" />
<line x1="1288.4" y1="1029.5" x2="1288.4" y2="1049.5" stroke="#fc9003" stroke-width="2.8" />
<line x1="1334.8" y1="1146.0" x2="1345.8" y2="1146.0" stroke="#fc9003" stroke-width="2.8" />
<line x1="1334.8" y1="1162.0" x2="1345.8" y2="1162.0" stroke="#fc9003" stroke-width="2.8" />
<line x1="1340.3" y1="1146.0" x2="1340.3" y2="1162.0" stroke="#fc9003" stroke-width="2.8" />
<line x1="1386.8" y1="1172.5" x2="1397.8" y2="1172.5" stroke="#fc9003" stroke-width="2.8" />
<line x1="1386.8" y1="1184.5" x2="1397.8" y2="1184.5" stroke="#fc9003" stroke-width="2.8" />
<line x1="1392.3" y1="1172.5" x2="1392.3" y2="1184.5" stroke="#fc9003" stroke-width="2.8" />
<line x1="1438.8" y1="1089.0" x2="1449.8" y2="1089.0" stroke="#fc9003" stroke-width="2.8" />
<line x1="1438.8" y1="1101.0" x2="1449.8" y2="1101.0" stroke="#fc9003" stroke-width="2.8" />
<line x1="1444.3" y1="1089.0" x2="1444.3" y2="1101.0" stroke="#fc9003" stroke-width="2.8" />
<line x1="1490.8" y1="1102.0" x2="1501.8" y2="1102.0" stroke="#fc9003" stroke-width="2.8" />
<line x1="1490.8" y1="1114.0" x2="1501.8" y2="1114.0" stroke="#fc9003" stroke-width="2.8" />
<line x1="1496.3" y1="1102.0" x2="1496.3" y2="1114.0" stroke="#fc9003" stroke-width="2.8" />
<circle cx="1288.4" cy="1020.5" r="6.6" fill="#636363"/>
<circle cx="1340.3" cy="1145.1" r="6.6" fill="#636363"/>
<circle cx="1392.3" cy="1174.8" r="6.6" fill="#636363"/>
<circle cx="1444.3" cy="1080.7" r="6.6" fill="#636363"/>
<circle cx="1496.3" cy="1105.5" r="6.6" fill="#636363"/>
<rect x="1281.7" y="1024.2" width="13.5" height="13.5" fill="#2e93fc"/>
<rect x="1333.5" y="1136.8" width="13.5" height="13.5" fill="#2e93fc"/>
<rect x="1385.5" y="1167.8" width="13.5" height="13.5" fill="#2e93fc"/>
<rect x="1437.5" y="1078.8" width="13.5" height="13.5" fill="#2e93fc"/>
<rect x="1489.5" y="1097.8" width="13.5" height="13.5" fill="#2e93fc"/>
<polygon points="1288.4,1032.2 1295.7,1039.5 1288.4,1046.8 1281.2,1039.5" fill="#fc9003"/>
<polygon points="1340.3,1146.8 1347.5,1154.0 1340.3,1161.2 1333.0,1154.0" fill="#fc9003"/>
<polygon points="1392.3,1171.2 1399.5,1178.5 1392.3,1185.8 1385.0,1178.5" fill="#fc9003"/>
<polygon points="1444.3,1087.8 1451.5,1095.0 1444.3,1102.2 1437.0,1095.0" fill="#fc9003"/>
<polygon points="1496.3,1100.8 1503.5,1108.0 1496.3,1115.2 1489.0,1108.0" fill="#fc9003"/>
<polyline points="1288.4,1020.5 1340.3,1145.1 1392.3,1174.8 1444.3,1080.7 1496.3,1105.5" fill="none" stroke="#636363" stroke-width="3.3"  stroke-linejoin="round"/>
<polyline points="1288.4,1031.0 1340.3,1143.5 1392.3,1174.5 1444.3,1085.5 1496.3,1104.5" fill="none" stroke="#2e93fc" stroke-width="3.3" stroke-dasharray="8.3 8.3" stroke-linejoin="round"/>
<polyline points="1288.4,1039.5 1340.3,1154.0 1392.3,1178.5 1444.3,1095.0 1496.3,1108.0" fill="none" stroke="#fc9003" stroke-width="3.3" stroke-dasharray="16.4 8.2" stroke-linejoin="round"/>
<rect x="1258.5" y="972.3" width="268.3" height="227.3" fill="none" stroke="#5c5c5c" stroke-width="2.3"/>
<line x1="1257.5" y1="972.6" x2="1527.8" y2="972.6" stroke="#333" stroke-width="3.2" />
<line x1="1288.4" y1="1199.6" x2="1288.4" y2="1210.6" stroke="#3a3a3a" stroke-width="3" />
<text transform="translate(1288.4,1241.1) scale(1,1.035)" font-size="32" text-anchor="middle" font-weight="normal" fill="#4d4d4d" stroke="#4d4d4d" stroke-width="0.35" >1</text>
<line x1="1340.3" y1="1199.6" x2="1340.3" y2="1210.6" stroke="#3a3a3a" stroke-width="3" />
<text transform="translate(1340.3,1241.1) scale(1,1.035)" font-size="32" text-anchor="middle" font-weight="normal" fill="#4d4d4d" stroke="#4d4d4d" stroke-width="0.35" >2</text>
<line x1="1392.3" y1="1199.6" x2="1392.3" y2="1210.6" stroke="#3a3a3a" stroke-width="3" />
<text transform="translate(1392.3,1241.1) scale(1,1.035)" font-size="32" text-anchor="middle" font-weight="normal" fill="#4d4d4d" stroke="#4d4d4d" stroke-width="0.35" >3</text>
<line x1="1444.3" y1="1199.6" x2="1444.3" y2="1210.6" stroke="#3a3a3a" stroke-width="3" />
<text transform="translate(1444.3,1241.1) scale(1,1.035)" font-size="32" text-anchor="middle" font-weight="normal" fill="#4d4d4d" stroke="#4d4d4d" stroke-width="0.35" >4</text>
<line x1="1496.3" y1="1199.6" x2="1496.3" y2="1210.6" stroke="#3a3a3a" stroke-width="3" />
<text transform="translate(1496.3,1241.1) scale(1,1.035)" font-size="32" text-anchor="middle" font-weight="normal" fill="#4d4d4d" stroke="#4d4d4d" stroke-width="0.35" >5</text>
<rect x="134.3" y="1268.9" width="268.3" height="59.6" fill="#d9d9d9" stroke="#5c5c5c" stroke-width="2.3"/>
<text transform="translate(268.5,1309.2) scale(1,1.035)" font-size="31.6" text-anchor="middle" font-weight="normal" fill="#1a1a1a" stroke="#1a1a1a" stroke-width="0.35" >CST (L)</text>
<rect x="134.3" y="1328.5" width="268.3" height="227.2" fill="#fff" stroke="#5c5c5c" stroke-width="2.3"/>
<line x1="123.3" y1="1330.6" x2="134.3" y2="1330.6" stroke="#3a3a3a" stroke-width="3" />
<text transform="translate(115.6,1342.6) scale(1,1.035)" font-size="32" text-anchor="end" font-weight="normal" fill="#4d4d4d" stroke="#4d4d4d" stroke-width="0.35" >0.30</text>
<line x1="123.3" y1="1385.3" x2="134.3" y2="1385.3" stroke="#3a3a3a" stroke-width="3" />
<text transform="translate(115.6,1397.3) scale(1,1.035)" font-size="32" text-anchor="end" font-weight="normal" fill="#4d4d4d" stroke="#4d4d4d" stroke-width="0.35" >0.25</text>
<line x1="123.3" y1="1439.8" x2="134.3" y2="1439.8" stroke="#3a3a3a" stroke-width="3" />
<text transform="translate(115.6,1451.8) scale(1,1.035)" font-size="32" text-anchor="end" font-weight="normal" fill="#4d4d4d" stroke="#4d4d4d" stroke-width="0.35" >0.20</text>
<line x1="123.3" y1="1494.7" x2="134.3" y2="1494.7" stroke="#3a3a3a" stroke-width="3" />
<text transform="translate(115.6,1506.7) scale(1,1.035)" font-size="32" text-anchor="end" font-weight="normal" fill="#4d4d4d" stroke="#4d4d4d" stroke-width="0.35" >0.15</text>
<line x1="123.3" y1="1549.5" x2="134.3" y2="1549.5" stroke="#3a3a3a" stroke-width="3" />
<text transform="translate(115.6,1561.5) scale(1,1.035)" font-size="32" text-anchor="end" font-weight="normal" fill="#4d4d4d" stroke="#4d4d4d" stroke-width="0.35" >0.10</text>
<line x1="158.7" y1="1363.5" x2="169.7" y2="1363.5" stroke="#636363" stroke-width="2.8" />
<line x1="158.7" y1="1387.5" x2="169.7" y2="1387.5" stroke="#636363" stroke-width="2.8" />
<line x1="164.2" y1="1363.5" x2="164.2" y2="1387.5" stroke="#636363" stroke-width="2.8" />
<line x1="210.6" y1="1490.0" x2="221.6" y2="1490.0" stroke="#636363" stroke-width="2.8" />
<line x1="210.6" y1="1506.0" x2="221.6" y2="1506.0" stroke="#636363" stroke-width="2.8" />
<line x1="216.1" y1="1490.0" x2="216.1" y2="1506.0" stroke="#636363" stroke-width="2.8" />
<line x1="262.6" y1="1520.8" x2="273.6" y2="1520.8" stroke="#636363" stroke-width="2.8" />
<line x1="262.6" y1="1532.8" x2="273.6" y2="1532.8" stroke="#636363" stroke-width="2.8" />
<line x1="268.1" y1="1520.8" x2="268.1" y2="1532.8" stroke="#636363" stroke-width="2.8" />
<line x1="314.6" y1="1419.5" x2="325.6" y2="1419.5" stroke="#636363" stroke-width="2.8" />
<line x1="314.6" y1="1431.5" x2="325.6" y2="1431.5" stroke="#636363" stroke-width="2.8" />
<line x1="320.1" y1="1419.5" x2="320.1" y2="1431.5" stroke="#636363" stroke-width="2.8" />
<line x1="366.6" y1="1388.0" x2="377.6" y2="1388.0" stroke="#636363" stroke-width="2.8" />
<line x1="366.6" y1="1400.0" x2="377.6" y2="1400.0" stroke="#636363" stroke-width="2.8" />
<line x1="372.1" y1="1388.0" x2="372.1" y2="1400.0" stroke="#636363" stroke-width="2.8" />
<line x1="158.7" y1="1371.5" x2="169.7" y2="1371.5" stroke="#2e93fc" stroke-width="2.8" />
<line x1="158.7" y1="1391.5" x2="169.7" y2="1391.5" stroke="#2e93fc" stroke-width="2.8" />
<line x1="164.2" y1="1371.5" x2="164.2" y2="1391.5" stroke="#2e93fc" stroke-width="2.8" />
<line x1="210.6" y1="1494.8" x2="221.6" y2="1494.8" stroke="#2e93fc" stroke-width="2.8" />
<line x1="210.6" y1="1506.8" x2="221.6" y2="1506.8" stroke="#2e93fc" stroke-width="2.8" />
<line x1="216.1" y1="1494.8" x2="216.1" y2="1506.8" stroke="#2e93fc" stroke-width="2.8" />
<line x1="262.6" y1="1521.5" x2="273.6" y2="1521.5" stroke="#2e93fc" stroke-width="2.8" />
<line x1="262.6" y1="1533.5" x2="273.6" y2="1533.5" stroke="#2e93fc" stroke-width="2.8" />
<line x1="268.1" y1="1521.5" x2="268.1" y2="1533.5" stroke="#2e93fc" stroke-width="2.8" />
<line x1="314.6" y1="1418.2" x2="325.6" y2="1418.2" stroke="#2e93fc" stroke-width="2.8" />
<line x1="314.6" y1="1430.2" x2="325.6" y2="1430.2" stroke="#2e93fc" stroke-width="2.8" />
<line x1="320.1" y1="1418.2" x2="320.1" y2="1430.2" stroke="#2e93fc" stroke-width="2.8" />
<line x1="366.6" y1="1387.8" x2="377.6" y2="1387.8" stroke="#2e93fc" stroke-width="2.8" />
<line x1="366.6" y1="1405.8" x2="377.6" y2="1405.8" stroke="#2e93fc" stroke-width="2.8" />
<line x1="372.1" y1="1387.8" x2="372.1" y2="1405.8" stroke="#2e93fc" stroke-width="2.8" />
<line x1="158.7" y1="1380.0" x2="169.7" y2="1380.0" stroke="#fc9003" stroke-width="2.8" />
<line x1="158.7" y1="1400.0" x2="169.7" y2="1400.0" stroke="#fc9003" stroke-width="2.8" />
<line x1="164.2" y1="1380.0" x2="164.2" y2="1400.0" stroke="#fc9003" stroke-width="2.8" />
<line x1="210.6" y1="1501.5" x2="221.6" y2="1501.5" stroke="#fc9003" stroke-width="2.8" />
<line x1="210.6" y1="1513.5" x2="221.6" y2="1513.5" stroke="#fc9003" stroke-width="2.8" />
<line x1="216.1" y1="1501.5" x2="216.1" y2="1513.5" stroke="#fc9003" stroke-width="2.8" />
<line x1="262.6" y1="1529.0" x2="273.6" y2="1529.0" stroke="#fc9003" stroke-width="2.8" />
<line x1="262.6" y1="1541.0" x2="273.6" y2="1541.0" stroke="#fc9003" stroke-width="2.8" />
<line x1="268.1" y1="1529.0" x2="268.1" y2="1541.0" stroke="#fc9003" stroke-width="2.8" />
<line x1="314.6" y1="1435.0" x2="325.6" y2="1435.0" stroke="#fc9003" stroke-width="2.8" />
<line x1="314.6" y1="1447.0" x2="325.6" y2="1447.0" stroke="#fc9003" stroke-width="2.8" />
<line x1="320.1" y1="1435.0" x2="320.1" y2="1447.0" stroke="#fc9003" stroke-width="2.8" />
<line x1="366.6" y1="1376.5" x2="377.6" y2="1376.5" stroke="#fc9003" stroke-width="2.8" />
<line x1="366.6" y1="1394.5" x2="377.6" y2="1394.5" stroke="#fc9003" stroke-width="2.8" />
<line x1="372.1" y1="1376.5" x2="372.1" y2="1394.5" stroke="#fc9003" stroke-width="2.8" />
<circle cx="164.2" cy="1375.5" r="6.6" fill="#636363"/>
<circle cx="216.1" cy="1498.0" r="6.6" fill="#636363"/>
<circle cx="268.1" cy="1526.8" r="6.6" fill="#636363"/>
<circle cx="320.1" cy="1425.5" r="6.6" fill="#636363"/>
<circle cx="372.1" cy="1394.0" r="6.6" fill="#636363"/>
<rect x="157.5" y="1374.8" width="13.5" height="13.5" fill="#2e93fc"/>
<rect x="209.4" y="1494.0" width="13.5" height="13.5" fill="#2e93fc"/>
<rect x="261.4" y="1520.8" width="13.5" height="13.5" fill="#2e93fc"/>
<rect x="313.4" y="1417.5" width="13.5" height="13.5" fill="#2e93fc"/>
<rect x="365.4" y="1390.0" width="13.5" height="13.5" fill="#2e93fc"/>
<polygon points="164.2,1382.8 171.5,1390.0 164.2,1397.2 157.0,1390.0" fill="#fc9003"/>
<polygon points="216.1,1500.2 223.4,1507.5 216.1,1514.8 208.9,1507.5" fill="#fc9003"/>
<polygon points="268.1,1527.8 275.4,1535.0 268.1,1542.2 260.9,1535.0" fill="#fc9003"/>
<polygon points="320.1,1433.8 327.4,1441.0 320.1,1448.2 312.9,1441.0" fill="#fc9003"/>
<polygon points="372.1,1378.2 379.4,1385.5 372.1,1392.8 364.9,1385.5" fill="#fc9003"/>
<polyline points="164.2,1375.5 216.1,1498.0 268.1,1526.8 320.1,1425.5 372.1,1394.0" fill="none" stroke="#636363" stroke-width="3.3"  stroke-linejoin="round"/>
<polyline points="164.2,1381.5 216.1,1500.8 268.1,1527.5 320.1,1424.2 372.1,1396.8" fill="none" stroke="#2e93fc" stroke-width="3.3" stroke-dasharray="8.3 8.3" stroke-linejoin="round"/>
<polyline points="164.2,1390.0 216.1,1507.5 268.1,1535.0 320.1,1441.0 372.1,1385.5" fill="none" stroke="#fc9003" stroke-width="3.3" stroke-dasharray="16.4 8.2" stroke-linejoin="round"/>
<text transform="translate(320.1,1385.3) scale(1,1.035)" font-size="27" text-anchor="middle" font-weight="normal" fill="#000" stroke="#000" stroke-width="0.5" >#</text>
<text transform="translate(320.1,1408.5) scale(1,1.035)" font-size="27" text-anchor="middle" font-weight="normal" fill="#000" stroke="#000" stroke-width="0.5" >+</text>
<rect x="134.3" y="1328.5" width="268.3" height="227.2" fill="none" stroke="#5c5c5c" stroke-width="2.3"/>
<line x1="133.3" y1="1328.8" x2="403.6" y2="1328.8" stroke="#333" stroke-width="3.2" />
<line x1="164.2" y1="1555.7" x2="164.2" y2="1566.7" stroke="#3a3a3a" stroke-width="3" />
<text transform="translate(164.2,1597.2) scale(1,1.035)" font-size="32" text-anchor="middle" font-weight="normal" fill="#4d4d4d" stroke="#4d4d4d" stroke-width="0.35" >1</text>
<line x1="216.1" y1="1555.7" x2="216.1" y2="1566.7" stroke="#3a3a3a" stroke-width="3" />
<text transform="translate(216.1,1597.2) scale(1,1.035)" font-size="32" text-anchor="middle" font-weight="normal" fill="#4d4d4d" stroke="#4d4d4d" stroke-width="0.35" >2</text>
<line x1="268.1" y1="1555.7" x2="268.1" y2="1566.7" stroke="#3a3a3a" stroke-width="3" />
<text transform="translate(268.1,1597.2) scale(1,1.035)" font-size="32" text-anchor="middle" font-weight="normal" fill="#4d4d4d" stroke="#4d4d4d" stroke-width="0.35" >3</text>
<line x1="320.1" y1="1555.7" x2="320.1" y2="1566.7" stroke="#3a3a3a" stroke-width="3" />
<text transform="translate(320.1,1597.2) scale(1,1.035)" font-size="32" text-anchor="middle" font-weight="normal" fill="#4d4d4d" stroke="#4d4d4d" stroke-width="0.35" >4</text>
<line x1="372.1" y1="1555.7" x2="372.1" y2="1566.7" stroke="#3a3a3a" stroke-width="3" />
<text transform="translate(372.1,1597.2) scale(1,1.035)" font-size="32" text-anchor="middle" font-weight="normal" fill="#4d4d4d" stroke="#4d4d4d" stroke-width="0.35" >5</text>
<rect x="503.7" y="1268.9" width="268.3" height="59.6" fill="#d9d9d9" stroke="#5c5c5c" stroke-width="2.3"/>
<text transform="translate(637.9,1309.2) scale(1,1.035)" font-size="31.6" text-anchor="middle" font-weight="normal" fill="#1a1a1a" stroke="#1a1a1a" stroke-width="0.35" >CST (R)</text>
<rect x="503.7" y="1328.5" width="268.3" height="227.2" fill="#fff" stroke="#5c5c5c" stroke-width="2.3"/>
<line x1="492.7" y1="1336.4" x2="503.7" y2="1336.4" stroke="#3a3a3a" stroke-width="3" />
<text transform="translate(485.0,1348.4) scale(1,1.035)" font-size="32" text-anchor="end" font-weight="normal" fill="#4d4d4d" stroke="#4d4d4d" stroke-width="0.35" >0.30</text>
<line x1="492.7" y1="1389.5" x2="503.7" y2="1389.5" stroke="#3a3a3a" stroke-width="3" />
<text transform="translate(485.0,1401.5) scale(1,1.035)" font-size="32" text-anchor="end" font-weight="normal" fill="#4d4d4d" stroke="#4d4d4d" stroke-width="0.35" >0.25</text>
<line x1="492.7" y1="1442.9" x2="503.7" y2="1442.9" stroke="#3a3a3a" stroke-width="3" />
<text transform="translate(485.0,1454.9) scale(1,1.035)" font-size="32" text-anchor="end" font-weight="normal" fill="#4d4d4d" stroke="#4d4d4d" stroke-width="0.35" >0.20</text>
<line x1="492.7" y1="1496.4" x2="503.7" y2="1496.4" stroke="#3a3a3a" stroke-width="3" />
<text transform="translate(485.0,1508.4) scale(1,1.035)" font-size="32" text-anchor="end" font-weight="normal" fill="#4d4d4d" stroke="#4d4d4d" stroke-width="0.35" >0.15</text>
<line x1="492.7" y1="1549.3" x2="503.7" y2="1549.3" stroke="#3a3a3a" stroke-width="3" />
<text transform="translate(485.0,1561.3) scale(1,1.035)" font-size="32" text-anchor="end" font-weight="normal" fill="#4d4d4d" stroke="#4d4d4d" stroke-width="0.35" >0.10</text>
<line x1="528.1" y1="1363.0" x2="539.1" y2="1363.0" stroke="#636363" stroke-width="2.8" />
<line x1="528.1" y1="1389.0" x2="539.1" y2="1389.0" stroke="#636363" stroke-width="2.8" />
<line x1="533.6" y1="1363.0" x2="533.6" y2="1389.0" stroke="#636363" stroke-width="2.8" />
<line x1="580.0" y1="1493.7" x2="591.0" y2="1493.7" stroke="#636363" stroke-width="2.8" />
<line x1="580.0" y1="1505.7" x2="591.0" y2="1505.7" stroke="#636363" stroke-width="2.8" />
<line x1="585.5" y1="1493.7" x2="585.5" y2="1505.7" stroke="#636363" stroke-width="2.8" />
<line x1="632.0" y1="1522.4" x2="643.0" y2="1522.4" stroke="#636363" stroke-width="2.8" />
<line x1="632.0" y1="1534.4" x2="643.0" y2="1534.4" stroke="#636363" stroke-width="2.8" />
<line x1="637.5" y1="1522.4" x2="637.5" y2="1534.4" stroke="#636363" stroke-width="2.8" />
<line x1="684.0" y1="1419.5" x2="695.0" y2="1419.5" stroke="#636363" stroke-width="2.8" />
<line x1="684.0" y1="1431.5" x2="695.0" y2="1431.5" stroke="#636363" stroke-width="2.8" />
<line x1="689.5" y1="1419.5" x2="689.5" y2="1431.5" stroke="#636363" stroke-width="2.8" />
<line x1="736.0" y1="1385.5" x2="747.0" y2="1385.5" stroke="#636363" stroke-width="2.8" />
<line x1="736.0" y1="1405.5" x2="747.0" y2="1405.5" stroke="#636363" stroke-width="2.8" />
<line x1="741.5" y1="1385.5" x2="741.5" y2="1405.5" stroke="#636363" stroke-width="2.8" />
<line x1="528.1" y1="1388.1" x2="539.1" y2="1388.1" stroke="#2e93fc" stroke-width="2.8" />
<line x1="528.1" y1="1408.1" x2="539.1" y2="1408.1" stroke="#2e93fc" stroke-width="2.8" />
<line x1="533.6" y1="1388.1" x2="533.6" y2="1408.1" stroke="#2e93fc" stroke-width="2.8" />
<line x1="580.0" y1="1504.2" x2="591.0" y2="1504.2" stroke="#2e93fc" stroke-width="2.8" />
<line x1="580.0" y1="1516.2" x2="591.0" y2="1516.2" stroke="#2e93fc" stroke-width="2.8" />
<line x1="585.5" y1="1504.2" x2="585.5" y2="1516.2" stroke="#2e93fc" stroke-width="2.8" />
<line x1="632.0" y1="1526.3" x2="643.0" y2="1526.3" stroke="#2e93fc" stroke-width="2.8" />
<line x1="632.0" y1="1538.3" x2="643.0" y2="1538.3" stroke="#2e93fc" stroke-width="2.8" />
<line x1="637.5" y1="1526.3" x2="637.5" y2="1538.3" stroke="#2e93fc" stroke-width="2.8" />
<line x1="684.0" y1="1428.6" x2="695.0" y2="1428.6" stroke="#2e93fc" stroke-width="2.8" />
<line x1="684.0" y1="1440.6" x2="695.0" y2="1440.6" stroke="#2e93fc" stroke-width="2.8" />
<line x1="689.5" y1="1428.6" x2="689.5" y2="1440.6" stroke="#2e93fc" stroke-width="2.8" />
<line x1="736.0" y1="1375.1" x2="747.0" y2="1375.1" stroke="#2e93fc" stroke-width="2.8" />
<line x1="736.0" y1="1395.1" x2="747.0" y2="1395.1" stroke="#2e93fc" stroke-width="2.8" />
<line x1="741.5" y1="1375.1" x2="741.5" y2="1395.1" stroke="#2e93fc" stroke-width="2.8" />
<line x1="528.1" y1="1383.9" x2="539.1" y2="1383.9" stroke="#fc9003" stroke-width="2.8" />
<line x1="528.1" y1="1401.9" x2="539.1" y2="1401.9" stroke="#fc9003" stroke-width="2.8" />
<line x1="533.6" y1="1383.9" x2="533.6" y2="1401.9" stroke="#fc9003" stroke-width="2.8" />
<line x1="580.0" y1="1508.7" x2="591.0" y2="1508.7" stroke="#fc9003" stroke-width="2.8" />
<line x1="580.0" y1="1524.7" x2="591.0" y2="1524.7" stroke="#fc9003" stroke-width="2.8" />
<line x1="585.5" y1="1508.7" x2="585.5" y2="1524.7" stroke="#fc9003" stroke-width="2.8" />
<line x1="632.0" y1="1528.9" x2="643.0" y2="1528.9" stroke="#fc9003" stroke-width="2.8" />
<line x1="632.0" y1="1540.9" x2="643.0" y2="1540.9" stroke="#fc9003" stroke-width="2.8" />
<line x1="637.5" y1="1528.9" x2="637.5" y2="1540.9" stroke="#fc9003" stroke-width="2.8" />
<line x1="684.0" y1="1426.0" x2="695.0" y2="1426.0" stroke="#fc9003" stroke-width="2.8" />
<line x1="684.0" y1="1438.0" x2="695.0" y2="1438.0" stroke="#fc9003" stroke-width="2.8" />
<line x1="689.5" y1="1426.0" x2="689.5" y2="1438.0" stroke="#fc9003" stroke-width="2.8" />
<line x1="736.0" y1="1383.0" x2="747.0" y2="1383.0" stroke="#fc9003" stroke-width="2.8" />
<line x1="736.0" y1="1395.0" x2="747.0" y2="1395.0" stroke="#fc9003" stroke-width="2.8" />
<line x1="741.5" y1="1383.0" x2="741.5" y2="1395.0" stroke="#fc9003" stroke-width="2.8" />
<circle cx="533.6" cy="1376.0" r="6.6" fill="#636363"/>
<circle cx="585.5" cy="1499.7" r="6.6" fill="#636363"/>
<circle cx="637.5" cy="1528.4" r="6.6" fill="#636363"/>
<circle cx="689.5" cy="1425.5" r="6.6" fill="#636363"/>
<circle cx="741.5" cy="1395.5" r="6.6" fill="#636363"/>
<rect x="526.9" y="1391.3" width="13.5" height="13.5" fill="#2e93fc"/>
<rect x="578.8" y="1503.5" width="13.5" height="13.5" fill="#2e93fc"/>
<rect x="630.8" y="1525.5" width="13.5" height="13.5" fill="#2e93fc"/>
<rect x="682.8" y="1427.8" width="13.5" height="13.5" fill="#2e93fc"/>
<rect x="734.8" y="1378.3" width="13.5" height="13.5" fill="#2e93fc"/>
<polygon points="533.6,1385.7 540.9,1392.9 533.6,1400.2 526.4,1392.9" fill="#fc9003"/>
<polygon points="585.5,1509.5 592.8,1516.7 585.5,1524.0 578.2,1516.7" fill="#fc9003"/>
<polygon points="637.5,1527.7 644.8,1534.9 637.5,1542.2 630.2,1534.9" fill="#fc9003"/>
<polygon points="689.5,1424.8 696.8,1432.0 689.5,1439.2 682.2,1432.0" fill="#fc9003"/>
<polygon points="741.5,1381.8 748.8,1389.0 741.5,1396.2 734.2,1389.0" fill="#fc9003"/>
<polyline points="533.6,1376.0 585.5,1499.7 637.5,1528.4 689.5,1425.5 741.5,1395.5" fill="none" stroke="#636363" stroke-width="3.3"  stroke-linejoin="round"/>
<polyline points="533.6,1398.1 585.5,1510.2 637.5,1532.3 689.5,1434.6 741.5,1385.1" fill="none" stroke="#2e93fc" stroke-width="3.3" stroke-dasharray="8.3 8.3" stroke-linejoin="round"/>
<polyline points="533.6,1392.9 585.5,1516.7 637.5,1534.9 689.5,1432.0 741.5,1389.0" fill="none" stroke="#fc9003" stroke-width="3.3" stroke-dasharray="16.4 8.2" stroke-linejoin="round"/>
<rect x="503.7" y="1328.5" width="268.3" height="227.2" fill="none" stroke="#5c5c5c" stroke-width="2.3"/>
<line x1="502.7" y1="1328.8" x2="773.0" y2="1328.8" stroke="#333" stroke-width="3.2" />
<line x1="533.6" y1="1555.7" x2="533.6" y2="1566.7" stroke="#3a3a3a" stroke-width="3" />
<text transform="translate(533.6,1597.2) scale(1,1.035)" font-size="32" text-anchor="middle" font-weight="normal" fill="#4d4d4d" stroke="#4d4d4d" stroke-width="0.35" >1</text>
<line x1="585.5" y1="1555.7" x2="585.5" y2="1566.7" stroke="#3a3a3a" stroke-width="3" />
<text transform="translate(585.5,1597.2) scale(1,1.035)" font-size="32" text-anchor="middle" font-weight="normal" fill="#4d4d4d" stroke="#4d4d4d" stroke-width="0.35" >2</text>
<line x1="637.5" y1="1555.7" x2="637.5" y2="1566.7" stroke="#3a3a3a" stroke-width="3" />
<text transform="translate(637.5,1597.2) scale(1,1.035)" font-size="32" text-anchor="middle" font-weight="normal" fill="#4d4d4d" stroke="#4d4d4d" stroke-width="0.35" >3</text>
<line x1="689.5" y1="1555.7" x2="689.5" y2="1566.7" stroke="#3a3a3a" stroke-width="3" />
<text transform="translate(689.5,1597.2) scale(1,1.035)" font-size="32" text-anchor="middle" font-weight="normal" fill="#4d4d4d" stroke="#4d4d4d" stroke-width="0.35" >4</text>
<line x1="741.5" y1="1555.7" x2="741.5" y2="1566.7" stroke="#3a3a3a" stroke-width="3" />
<text transform="translate(741.5,1597.2) scale(1,1.035)" font-size="32" text-anchor="middle" font-weight="normal" fill="#4d4d4d" stroke="#4d4d4d" stroke-width="0.35" >5</text>
<rect x="872.1" y="1268.9" width="268.3" height="59.6" fill="#d9d9d9" stroke="#5c5c5c" stroke-width="2.3"/>
<text transform="translate(1006.2,1309.2) scale(1,1.035)" font-size="31.6" text-anchor="middle" font-weight="normal" fill="#1a1a1a" stroke="#1a1a1a" stroke-width="0.35" >IFOF (R)</text>
<rect x="872.1" y="1328.5" width="268.3" height="227.2" fill="#fff" stroke="#5c5c5c" stroke-width="2.3"/>
<line x1="861.1" y1="1329.8" x2="872.1" y2="1329.8" stroke="#3a3a3a" stroke-width="3" />
<text transform="translate(853.4,1341.8) scale(1,1.035)" font-size="32" text-anchor="end" font-weight="normal" fill="#4d4d4d" stroke="#4d4d4d" stroke-width="0.35" >0.30</text>
<line x1="861.1" y1="1380.1" x2="872.1" y2="1380.1" stroke="#3a3a3a" stroke-width="3" />
<text transform="translate(853.4,1392.1) scale(1,1.035)" font-size="32" text-anchor="end" font-weight="normal" fill="#4d4d4d" stroke="#4d4d4d" stroke-width="0.35" >0.25</text>
<line x1="861.1" y1="1430.8" x2="872.1" y2="1430.8" stroke="#3a3a3a" stroke-width="3" />
<text transform="translate(853.4,1442.8) scale(1,1.035)" font-size="32" text-anchor="end" font-weight="normal" fill="#4d4d4d" stroke="#4d4d4d" stroke-width="0.35" >0.20</text>
<line x1="861.1" y1="1481.6" x2="872.1" y2="1481.6" stroke="#3a3a3a" stroke-width="3" />
<text transform="translate(853.4,1493.6) scale(1,1.035)" font-size="32" text-anchor="end" font-weight="normal" fill="#4d4d4d" stroke="#4d4d4d" stroke-width="0.35" >0.15</text>
<line x1="861.1" y1="1532.3" x2="872.1" y2="1532.3" stroke="#3a3a3a" stroke-width="3" />
<text transform="translate(853.4,1544.3) scale(1,1.035)" font-size="32" text-anchor="end" font-weight="normal" fill="#4d4d4d" stroke="#4d4d4d" stroke-width="0.35" >0.10</text>
<line x1="896.5" y1="1458.2" x2="907.5" y2="1458.2" stroke="#636363" stroke-width="2.8" />
<line x1="896.5" y1="1470.2" x2="907.5" y2="1470.2" stroke="#636363" stroke-width="2.8" />
<line x1="902.0" y1="1458.2" x2="902.0" y2="1470.2" stroke="#636363" stroke-width="2.8" />
<line x1="948.4" y1="1516.4" x2="959.4" y2="1516.4" stroke="#636363" stroke-width="2.8" />
<line x1="948.4" y1="1528.4" x2="959.4" y2="1528.4" stroke="#636363" stroke-width="2.8" />
<line x1="953.9" y1="1516.4" x2="953.9" y2="1528.4" stroke="#636363" stroke-width="2.8" />
<line x1="1000.4" y1="1484.2" x2="1011.4" y2="1484.2" stroke="#636363" stroke-width="2.8" />
<line x1="1000.4" y1="1496.2" x2="1011.4" y2="1496.2" stroke="#636363" stroke-width="2.8" />
<line x1="1005.9" y1="1484.2" x2="1005.9" y2="1496.2" stroke="#636363" stroke-width="2.8" />
<line x1="1052.4" y1="1485.5" x2="1063.4" y2="1485.5" stroke="#636363" stroke-width="2.8" />
<line x1="1052.4" y1="1497.5" x2="1063.4" y2="1497.5" stroke="#636363" stroke-width="2.8" />
<line x1="1057.9" y1="1485.5" x2="1057.9" y2="1497.5" stroke="#636363" stroke-width="2.8" />
<line x1="1104.4" y1="1365.4" x2="1115.4" y2="1365.4" stroke="#636363" stroke-width="2.8" />
<line x1="1104.4" y1="1377.4" x2="1115.4" y2="1377.4" stroke="#636363" stroke-width="2.8" />
<line x1="1109.9" y1="1365.4" x2="1109.9" y2="1377.4" stroke="#636363" stroke-width="2.8" />
<line x1="896.5" y1="1445.9" x2="907.5" y2="1445.9" stroke="#2e93fc" stroke-width="2.8" />
<line x1="896.5" y1="1457.9" x2="907.5" y2="1457.9" stroke="#2e93fc" stroke-width="2.8" />
<line x1="902.0" y1="1445.9" x2="902.0" y2="1457.9" stroke="#2e93fc" stroke-width="2.8" />
<line x1="948.4" y1="1512.7" x2="959.4" y2="1512.7" stroke="#2e93fc" stroke-width="2.8" />
<line x1="948.4" y1="1524.7" x2="959.4" y2="1524.7" stroke="#2e93fc" stroke-width="2.8" />
<line x1="953.9" y1="1512.7" x2="953.9" y2="1524.7" stroke="#2e93fc" stroke-width="2.8" />
<line x1="1000.4" y1="1483.0" x2="1011.4" y2="1483.0" stroke="#2e93fc" stroke-width="2.8" />
<line x1="1000.4" y1="1495.0" x2="1011.4" y2="1495.0" stroke="#2e93fc" stroke-width="2.8" />
<line x1="1005.9" y1="1483.0" x2="1005.9" y2="1495.0" stroke="#2e93fc" stroke-width="2.8" />
<line x1="1052.4" y1="1480.5" x2="1063.4" y2="1480.5" stroke="#2e93fc" stroke-width="2.8" />
<line x1="1052.4" y1="1492.5" x2="1063.4" y2="1492.5" stroke="#2e93fc" stroke-width="2.8" />
<line x1="1057.9" y1="1480.5" x2="1057.9" y2="1492.5" stroke="#2e93fc" stroke-width="2.8" />
<line x1="1104.4" y1="1364.2" x2="1115.4" y2="1364.2" stroke="#2e93fc" stroke-width="2.8" />
<line x1="1104.4" y1="1376.2" x2="1115.4" y2="1376.2" stroke="#2e93fc" stroke-width="2.8" />
<line x1="1109.9" y1="1364.2" x2="1109.9" y2="1376.2" stroke="#2e93fc" stroke-width="2.8" />
<line x1="896.5" y1="1447.1" x2="907.5" y2="1447.1" stroke="#fc9003" stroke-width="2.8" />
<line x1="896.5" y1="1459.1" x2="907.5" y2="1459.1" stroke="#fc9003" stroke-width="2.8" />
<line x1="902.0" y1="1447.1" x2="902.0" y2="1459.1" stroke="#fc9003" stroke-width="2.8" />
<line x1="948.4" y1="1525.1" x2="959.4" y2="1525.1" stroke="#fc9003" stroke-width="2.8" />
<line x1="948.4" y1="1537.1" x2="959.4" y2="1537.1" stroke="#fc9003" stroke-width="2.8" />
<line x1="953.9" y1="1525.1" x2="953.9" y2="1537.1" stroke="#fc9003" stroke-width="2.8" />
<line x1="1000.4" y1="1485.5" x2="1011.4" y2="1485.5" stroke="#fc9003" stroke-width="2.8" />
<line x1="1000.4" y1="1497.5" x2="1011.4" y2="1497.5" stroke="#fc9003" stroke-width="2.8" />
<line x1="1005.9" y1="1485.5" x2="1005.9" y2="1497.5" stroke="#fc9003" stroke-width="2.8" />
<line x1="1052.4" y1="1485.5" x2="1063.4" y2="1485.5" stroke="#fc9003" stroke-width="2.8" />
<line x1="1052.4" y1="1497.5" x2="1063.4" y2="1497.5" stroke="#fc9003" stroke-width="2.8" />
<line x1="1057.9" y1="1485.5" x2="1057.9" y2="1497.5" stroke="#fc9003" stroke-width="2.8" />
<line x1="1104.4" y1="1367.9" x2="1115.4" y2="1367.9" stroke="#fc9003" stroke-width="2.8" />
<line x1="1104.4" y1="1379.9" x2="1115.4" y2="1379.9" stroke="#fc9003" stroke-width="2.8" />
<line x1="1109.9" y1="1367.9" x2="1109.9" y2="1379.9" stroke="#fc9003" stroke-width="2.8" />
<circle cx="902.0" cy="1464.2" r="6.6" fill="#636363"/>
<circle cx="953.9" cy="1522.4" r="6.6" fill="#636363"/>
<circle cx="1005.9" cy="1490.2" r="6.6" fill="#636363"/>
<circle cx="1057.9" cy="1491.5" r="6.6" fill="#636363"/>
<circle cx="1109.9" cy="1371.4" r="6.6" fill="#636363"/>
<rect x="895.2" y="1445.2" width="13.5" height="13.5" fill="#2e93fc"/>
<rect x="947.1" y="1512.0" width="13.5" height="13.5" fill="#2e93fc"/>
<rect x="999.2" y="1482.2" width="13.5" height="13.5" fill="#2e93fc"/>
<rect x="1051.2" y="1479.8" width="13.5" height="13.5" fill="#2e93fc"/>
<rect x="1103.2" y="1363.5" width="13.5" height="13.5" fill="#2e93fc"/>
<polygon points="902.0,1445.8 909.2,1453.1 902.0,1460.3 894.8,1453.1" fill="#fc9003"/>
<polygon points="953.9,1523.8 961.1,1531.1 953.9,1538.3 946.6,1531.1" fill="#fc9003"/>
<polygon points="1005.9,1484.2 1013.2,1491.5 1005.9,1498.8 998.7,1491.5" fill="#fc9003"/>
<polygon points="1057.9,1484.2 1065.2,1491.5 1057.9,1498.8 1050.7,1491.5" fill="#fc9003"/>
<polygon points="1109.9,1366.7 1117.2,1373.9 1109.9,1381.2 1102.7,1373.9" fill="#fc9003"/>
<polyline points="902.0,1464.2 953.9,1522.4 1005.9,1490.2 1057.9,1491.5 1109.9,1371.4" fill="none" stroke="#636363" stroke-width="3.3"  stroke-linejoin="round"/>
<polyline points="902.0,1451.9 953.9,1518.7 1005.9,1489.0 1057.9,1486.5 1109.9,1370.2" fill="none" stroke="#2e93fc" stroke-width="3.3" stroke-dasharray="8.3 8.3" stroke-linejoin="round"/>
<polyline points="902.0,1453.1 953.9,1531.1 1005.9,1491.5 1057.9,1491.5 1109.9,1373.9" fill="none" stroke="#fc9003" stroke-width="3.3" stroke-dasharray="16.4 8.2" stroke-linejoin="round"/>
<rect x="872.1" y="1328.5" width="268.3" height="227.2" fill="none" stroke="#5c5c5c" stroke-width="2.3"/>
<line x1="871.1" y1="1328.8" x2="1141.4" y2="1328.8" stroke="#333" stroke-width="3.2" />
<line x1="902.0" y1="1555.7" x2="902.0" y2="1566.7" stroke="#3a3a3a" stroke-width="3" />
<text transform="translate(902.0,1597.2) scale(1,1.035)" font-size="32" text-anchor="middle" font-weight="normal" fill="#4d4d4d" stroke="#4d4d4d" stroke-width="0.35" >1</text>
<line x1="953.9" y1="1555.7" x2="953.9" y2="1566.7" stroke="#3a3a3a" stroke-width="3" />
<text transform="translate(953.9,1597.2) scale(1,1.035)" font-size="32" text-anchor="middle" font-weight="normal" fill="#4d4d4d" stroke="#4d4d4d" stroke-width="0.35" >2</text>
<line x1="1005.9" y1="1555.7" x2="1005.9" y2="1566.7" stroke="#3a3a3a" stroke-width="3" />
<text transform="translate(1005.9,1597.2) scale(1,1.035)" font-size="32" text-anchor="middle" font-weight="normal" fill="#4d4d4d" stroke="#4d4d4d" stroke-width="0.35" >3</text>
<line x1="1057.9" y1="1555.7" x2="1057.9" y2="1566.7" stroke="#3a3a3a" stroke-width="3" />
<text transform="translate(1057.9,1597.2) scale(1,1.035)" font-size="32" text-anchor="middle" font-weight="normal" fill="#4d4d4d" stroke="#4d4d4d" stroke-width="0.35" >4</text>
<line x1="1109.9" y1="1555.7" x2="1109.9" y2="1566.7" stroke="#3a3a3a" stroke-width="3" />
<text transform="translate(1109.9,1597.2) scale(1,1.035)" font-size="32" text-anchor="middle" font-weight="normal" fill="#4d4d4d" stroke="#4d4d4d" stroke-width="0.35" >5</text>
<rect x="1258.5" y="1268.9" width="268.3" height="59.6" fill="#d9d9d9" stroke="#5c5c5c" stroke-width="2.3"/>
<text transform="translate(1392.7,1309.2) scale(1,1.035)" font-size="31.6" text-anchor="middle" font-weight="normal" fill="#1a1a1a" stroke="#1a1a1a" stroke-width="0.35" >ILF (L)</text>
<rect x="1258.5" y="1328.5" width="268.3" height="227.2" fill="#fff" stroke="#5c5c5c" stroke-width="2.3"/>
<line x1="1247.5" y1="1368.9" x2="1258.5" y2="1368.9" stroke="#3a3a3a" stroke-width="3" />
<text transform="translate(1239.8,1380.9) scale(1,1.035)" font-size="32" text-anchor="end" font-weight="normal" fill="#4d4d4d" stroke="#4d4d4d" stroke-width="0.35" >0.200</text>
<line x1="1247.5" y1="1416.5" x2="1258.5" y2="1416.5" stroke="#3a3a3a" stroke-width="3" />
<text transform="translate(1239.8,1428.5) scale(1,1.035)" font-size="32" text-anchor="end" font-weight="normal" fill="#4d4d4d" stroke="#4d4d4d" stroke-width="0.35" >0.175</text>
<line x1="1247.5" y1="1464.2" x2="1258.5" y2="1464.2" stroke="#3a3a3a" stroke-width="3" />
<text transform="translate(1239.8,1476.2) scale(1,1.035)" font-size="32" text-anchor="end" font-weight="normal" fill="#4d4d4d" stroke="#4d4d4d" stroke-width="0.35" >0.150</text>
<line x1="1247.5" y1="1512.5" x2="1258.5" y2="1512.5" stroke="#3a3a3a" stroke-width="3" />
<text transform="translate(1239.8,1524.5) scale(1,1.035)" font-size="32" text-anchor="end" font-weight="normal" fill="#4d4d4d" stroke="#4d4d4d" stroke-width="0.35" >0.125</text>
<line x1="1282.9" y1="1374.0" x2="1293.9" y2="1374.0" stroke="#636363" stroke-width="2.8" />
<line x1="1282.9" y1="1396.0" x2="1293.9" y2="1396.0" stroke="#636363" stroke-width="2.8" />
<line x1="1288.4" y1="1374.0" x2="1288.4" y2="1396.0" stroke="#636363" stroke-width="2.8" />
<line x1="1334.8" y1="1476.0" x2="1345.8" y2="1476.0" stroke="#636363" stroke-width="2.8" />
<line x1="1334.8" y1="1488.0" x2="1345.8" y2="1488.0" stroke="#636363" stroke-width="2.8" />
<line x1="1340.3" y1="1476.0" x2="1340.3" y2="1488.0" stroke="#636363" stroke-width="2.8" />
<line x1="1386.8" y1="1513.9" x2="1397.8" y2="1513.9" stroke="#636363" stroke-width="2.8" />
<line x1="1386.8" y1="1525.9" x2="1397.8" y2="1525.9" stroke="#636363" stroke-width="2.8" />
<line x1="1392.3" y1="1513.9" x2="1392.3" y2="1525.9" stroke="#636363" stroke-width="2.8" />
<line x1="1438.8" y1="1466.9" x2="1449.8" y2="1466.9" stroke="#636363" stroke-width="2.8" />
<line x1="1438.8" y1="1478.9" x2="1449.8" y2="1478.9" stroke="#636363" stroke-width="2.8" />
<line x1="1444.3" y1="1466.9" x2="1444.3" y2="1478.9" stroke="#636363" stroke-width="2.8" />
<line x1="1490.8" y1="1380.7" x2="1501.8" y2="1380.7" stroke="#636363" stroke-width="2.8" />
<line x1="1490.8" y1="1396.7" x2="1501.8" y2="1396.7" stroke="#636363" stroke-width="2.8" />
<line x1="1496.3" y1="1380.7" x2="1496.3" y2="1396.7" stroke="#636363" stroke-width="2.8" />
<line x1="1282.9" y1="1373.8" x2="1293.9" y2="1373.8" stroke="#2e93fc" stroke-width="2.8" />
<line x1="1282.9" y1="1393.8" x2="1293.9" y2="1393.8" stroke="#2e93fc" stroke-width="2.8" />
<line x1="1288.4" y1="1373.8" x2="1288.4" y2="1393.8" stroke="#2e93fc" stroke-width="2.8" />
<line x1="1334.8" y1="1479.0" x2="1345.8" y2="1479.0" stroke="#2e93fc" stroke-width="2.8" />
<line x1="1334.8" y1="1499.0" x2="1345.8" y2="1499.0" stroke="#2e93fc" stroke-width="2.8" />
<line x1="1340.3" y1="1479.0" x2="1340.3" y2="1499.0" stroke="#2e93fc" stroke-width="2.8" />
<line x1="1386.8" y1="1499.0" x2="1397.8" y2="1499.0" stroke="#2e93fc" stroke-width="2.8" />
<line x1="1386.8" y1="1511.0" x2="1397.8" y2="1511.0" stroke="#2e93fc" stroke-width="2.8" />
<line x1="1392.3" y1="1499.0" x2="1392.3" y2="1511.0" stroke="#2e93fc" stroke-width="2.8" />
<line x1="1438.8" y1="1467.5" x2="1449.8" y2="1467.5" stroke="#2e93fc" stroke-width="2.8" />
<line x1="1438.8" y1="1479.5" x2="1449.8" y2="1479.5" stroke="#2e93fc" stroke-width="2.8" />
<line x1="1444.3" y1="1467.5" x2="1444.3" y2="1479.5" stroke="#2e93fc" stroke-width="2.8" />
<line x1="1490.8" y1="1363.3" x2="1501.8" y2="1363.3" stroke="#2e93fc" stroke-width="2.8" />
<line x1="1490.8" y1="1387.3" x2="1501.8" y2="1387.3" stroke="#2e93fc" stroke-width="2.8" />
<line x1="1496.3" y1="1363.3" x2="1496.3" y2="1387.3" stroke="#2e93fc" stroke-width="2.8" />
<line x1="1282.9" y1="1371.5" x2="1293.9" y2="1371.5" stroke="#fc9003" stroke-width="2.8" />
<line x1="1282.9" y1="1393.5" x2="1293.9" y2="1393.5" stroke="#fc9003" stroke-width="2.8" />
<line x1="1288.4" y1="1371.5" x2="1288.4" y2="1393.5" stroke="#fc9003" stroke-width="2.8" />
<line x1="1334.8" y1="1467.8" x2="1345.8" y2="1467.8" stroke="#fc9003" stroke-width="2.8" />
<line x1="1334.8" y1="1487.8" x2="1345.8" y2="1487.8" stroke="#fc9003" stroke-width="2.8" />
<line x1="1340.3" y1="1467.8" x2="1340.3" y2="1487.8" stroke="#fc9003" stroke-width="2.8" />
<line x1="1386.8" y1="1516.6" x2="1397.8" y2="1516.6" stroke="#fc9003" stroke-width="2.8" />
<line x1="1386.8" y1="1540.6" x2="1397.8" y2="1540.6" stroke="#fc9003" stroke-width="2.8" />
<line x1="1392.3" y1="1516.6" x2="1392.3" y2="1540.6" stroke="#fc9003" stroke-width="2.8" />
<line x1="1438.8" y1="1483.5" x2="1449.8" y2="1483.5" stroke="#fc9003" stroke-width="2.8" />
<line x1="1438.8" y1="1499.5" x2="1449.8" y2="1499.5" stroke="#fc9003" stroke-width="2.8" />
<line x1="1444.3" y1="1483.5" x2="1444.3" y2="1499.5" stroke="#fc9003" stroke-width="2.8" />
<line x1="1490.8" y1="1379.7" x2="1501.8" y2="1379.7" stroke="#fc9003" stroke-width="2.8" />
<line x1="1490.8" y1="1407.7" x2="1501.8" y2="1407.7" stroke="#fc9003" stroke-width="2.8" />
<line x1="1496.3" y1="1379.7" x2="1496.3" y2="1407.7" stroke="#fc9003" stroke-width="2.8" />
<circle cx="1288.4" cy="1385.0" r="6.6" fill="#636363"/>
<circle cx="1340.3" cy="1482.0" r="6.6" fill="#636363"/>
<circle cx="1392.3" cy="1519.9" r="6.6" fill="#636363"/>
<circle cx="1444.3" cy="1472.9" r="6.6" fill="#636363"/>
<circle cx="1496.3" cy="1388.7" r="6.6" fill="#636363"/>
<rect x="1281.7" y="1377.0" width="13.5" height="13.5" fill="#2e93fc"/>
<rect x="1333.5" y="1482.2" width="13.5" height="13.5" fill="#2e93fc"/>
<rect x="1385.5" y="1498.2" width="13.5" height="13.5" fill="#2e93fc"/>
<rect x="1437.5" y="1466.8" width="13.5" height="13.5" fill="#2e93fc"/>
<rect x="1489.5" y="1368.5" width="13.5" height="13.5" fill="#2e93fc"/>
<polygon points="1288.4,1375.2 1295.7,1382.5 1288.4,1389.8 1281.2,1382.5" fill="#fc9003"/>
<polygon points="1340.3,1470.5 1347.5,1477.8 1340.3,1485.0 1333.0,1477.8" fill="#fc9003"/>
<polygon points="1392.3,1521.3 1399.5,1528.6 1392.3,1535.8 1385.0,1528.6" fill="#fc9003"/>
<polygon points="1444.3,1484.2 1451.5,1491.5 1444.3,1498.8 1437.0,1491.5" fill="#fc9003"/>
<polygon points="1496.3,1386.5 1503.5,1393.7 1496.3,1401.0 1489.0,1393.7" fill="#fc9003"/>
<polyline points="1288.4,1385.0 1340.3,1482.0 1392.3,1519.9 1444.3,1472.9 1496.3,1388.7" fill="none" stroke="#636363" stroke-width="3.3"  stroke-linejoin="round"/>
<polyline points="1288.4,1383.8 1340.3,1489.0 1392.3,1505.0 1444.3,1473.5 1496.3,1375.3" fill="none" stroke="#2e93fc" stroke-width="3.3" stroke-dasharray="8.3 8.3" stroke-linejoin="round"/>
<polyline points="1288.4,1382.5 1340.3,1477.8 1392.3,1528.6 1444.3,1491.5 1496.3,1393.7" fill="none" stroke="#fc9003" stroke-width="3.3" stroke-dasharray="16.4 8.2" stroke-linejoin="round"/>
<text transform="translate(1392.3,1486.8) scale(1,1.035)" font-size="27" text-anchor="middle" font-weight="normal" fill="#000" stroke="#000" stroke-width="0.5" >+</text>
<text transform="translate(1444.3,1454.7) scale(1,1.035)" font-size="27" text-anchor="middle" font-weight="normal" fill="#000" stroke="#000" stroke-width="0.5" >#</text>
<rect x="1258.5" y="1328.5" width="268.3" height="227.2" fill="none" stroke="#5c5c5c" stroke-width="2.3"/>
<line x1="1257.5" y1="1328.8" x2="1527.8" y2="1328.8" stroke="#333" stroke-width="3.2" />
<line x1="1288.4" y1="1555.7" x2="1288.4" y2="1566.7" stroke="#3a3a3a" stroke-width="3" />
<text transform="translate(1288.4,1597.2) scale(1,1.035)" font-size="32" text-anchor="middle" font-weight="normal" fill="#4d4d4d" stroke="#4d4d4d" stroke-width="0.35" >1</text>
<line x1="1340.3" y1="1555.7" x2="1340.3" y2="1566.7" stroke="#3a3a3a" stroke-width="3" />
<text transform="translate(1340.3,1597.2) scale(1,1.035)" font-size="32" text-anchor="middle" font-weight="normal" fill="#4d4d4d" stroke="#4d4d4d" stroke-width="0.35" >2</text>
<line x1="1392.3" y1="1555.7" x2="1392.3" y2="1566.7" stroke="#3a3a3a" stroke-width="3" />
<text transform="translate(1392.3,1597.2) scale(1,1.035)" font-size="32" text-anchor="middle" font-weight="normal" fill="#4d4d4d" stroke="#4d4d4d" stroke-width="0.35" >3</text>
<line x1="1444.3" y1="1555.7" x2="1444.3" y2="1566.7" stroke="#3a3a3a" stroke-width="3" />
<text transform="translate(1444.3,1597.2) scale(1,1.035)" font-size="32" text-anchor="middle" font-weight="normal" fill="#4d4d4d" stroke="#4d4d4d" stroke-width="0.35" >4</text>
<line x1="1496.3" y1="1555.7" x2="1496.3" y2="1566.7" stroke="#3a3a3a" stroke-width="3" />
<text transform="translate(1496.3,1597.2) scale(1,1.035)" font-size="32" text-anchor="middle" font-weight="normal" fill="#4d4d4d" stroke="#4d4d4d" stroke-width="0.35" >5</text>
<rect x="134.3" y="1624.7" width="268.3" height="59.7" fill="#d9d9d9" stroke="#5c5c5c" stroke-width="2.3"/>
<text transform="translate(268.5,1665.1) scale(1,1.035)" font-size="31.6" text-anchor="middle" font-weight="normal" fill="#1a1a1a" stroke="#1a1a1a" stroke-width="0.35" >ILF (R)</text>
<rect x="134.3" y="1684.4" width="268.3" height="227.6" fill="#fff" stroke="#5c5c5c" stroke-width="2.3"/>
<line x1="123.3" y1="1759.0" x2="134.3" y2="1759.0" stroke="#3a3a3a" stroke-width="3" />
<text transform="translate(115.6,1771.0) scale(1,1.035)" font-size="32" text-anchor="end" font-weight="normal" fill="#4d4d4d" stroke="#4d4d4d" stroke-width="0.35" >0.20</text>
<line x1="123.3" y1="1839.7" x2="134.3" y2="1839.7" stroke="#3a3a3a" stroke-width="3" />
<text transform="translate(115.6,1851.7) scale(1,1.035)" font-size="32" text-anchor="end" font-weight="normal" fill="#4d4d4d" stroke="#4d4d4d" stroke-width="0.35" >0.15</text>
<line x1="158.7" y1="1791.8" x2="169.7" y2="1791.8" stroke="#636363" stroke-width="2.8" />
<line x1="158.7" y1="1803.8" x2="169.7" y2="1803.8" stroke="#636363" stroke-width="2.8" />
<line x1="164.2" y1="1791.8" x2="164.2" y2="1803.8" stroke="#636363" stroke-width="2.8" />
<line x1="210.6" y1="1863.0" x2="221.6" y2="1863.0" stroke="#636363" stroke-width="2.8" />
<line x1="210.6" y1="1875.0" x2="221.6" y2="1875.0" stroke="#636363" stroke-width="2.8" />
<line x1="216.1" y1="1863.0" x2="216.1" y2="1875.0" stroke="#636363" stroke-width="2.8" />
<line x1="262.6" y1="1861.6" x2="273.6" y2="1861.6" stroke="#636363" stroke-width="2.8" />
<line x1="262.6" y1="1873.6" x2="273.6" y2="1873.6" stroke="#636363" stroke-width="2.8" />
<line x1="268.1" y1="1861.6" x2="268.1" y2="1873.6" stroke="#636363" stroke-width="2.8" />
<line x1="314.6" y1="1813.7" x2="325.6" y2="1813.7" stroke="#636363" stroke-width="2.8" />
<line x1="314.6" y1="1825.7" x2="325.6" y2="1825.7" stroke="#636363" stroke-width="2.8" />
<line x1="320.1" y1="1813.7" x2="320.1" y2="1825.7" stroke="#636363" stroke-width="2.8" />
<line x1="366.6" y1="1728.3" x2="377.6" y2="1728.3" stroke="#636363" stroke-width="2.8" />
<line x1="366.6" y1="1744.3" x2="377.6" y2="1744.3" stroke="#636363" stroke-width="2.8" />
<line x1="372.1" y1="1728.3" x2="372.1" y2="1744.3" stroke="#636363" stroke-width="2.8" />
<line x1="158.7" y1="1776.0" x2="169.7" y2="1776.0" stroke="#2e93fc" stroke-width="2.8" />
<line x1="158.7" y1="1788.0" x2="169.7" y2="1788.0" stroke="#2e93fc" stroke-width="2.8" />
<line x1="164.2" y1="1776.0" x2="164.2" y2="1788.0" stroke="#2e93fc" stroke-width="2.8" />
<line x1="210.6" y1="1855.3" x2="221.6" y2="1855.3" stroke="#2e93fc" stroke-width="2.8" />
<line x1="210.6" y1="1867.3" x2="221.6" y2="1867.3" stroke="#2e93fc" stroke-width="2.8" />
<line x1="216.1" y1="1855.3" x2="216.1" y2="1867.3" stroke="#2e93fc" stroke-width="2.8" />
<line x1="262.6" y1="1860.2" x2="273.6" y2="1860.2" stroke="#2e93fc" stroke-width="2.8" />
<line x1="262.6" y1="1872.2" x2="273.6" y2="1872.2" stroke="#2e93fc" stroke-width="2.8" />
<line x1="268.1" y1="1860.2" x2="268.1" y2="1872.2" stroke="#2e93fc" stroke-width="2.8" />
<line x1="314.6" y1="1818.0" x2="325.6" y2="1818.0" stroke="#2e93fc" stroke-width="2.8" />
<line x1="314.6" y1="1830.0" x2="325.6" y2="1830.0" stroke="#2e93fc" stroke-width="2.8" />
<line x1="320.1" y1="1818.0" x2="320.1" y2="1830.0" stroke="#2e93fc" stroke-width="2.8" />
<line x1="366.6" y1="1721.0" x2="377.6" y2="1721.0" stroke="#2e93fc" stroke-width="2.8" />
<line x1="366.6" y1="1737.0" x2="377.6" y2="1737.0" stroke="#2e93fc" stroke-width="2.8" />
<line x1="372.1" y1="1721.0" x2="372.1" y2="1737.0" stroke="#2e93fc" stroke-width="2.8" />
<line x1="158.7" y1="1772.7" x2="169.7" y2="1772.7" stroke="#fc9003" stroke-width="2.8" />
<line x1="158.7" y1="1784.7" x2="169.7" y2="1784.7" stroke="#fc9003" stroke-width="2.8" />
<line x1="164.2" y1="1772.7" x2="164.2" y2="1784.7" stroke="#fc9003" stroke-width="2.8" />
<line x1="210.6" y1="1871.9" x2="221.6" y2="1871.9" stroke="#fc9003" stroke-width="2.8" />
<line x1="210.6" y1="1887.9" x2="221.6" y2="1887.9" stroke="#fc9003" stroke-width="2.8" />
<line x1="216.1" y1="1871.9" x2="216.1" y2="1887.9" stroke="#fc9003" stroke-width="2.8" />
<line x1="262.6" y1="1878.8" x2="273.6" y2="1878.8" stroke="#fc9003" stroke-width="2.8" />
<line x1="262.6" y1="1894.8" x2="273.6" y2="1894.8" stroke="#fc9003" stroke-width="2.8" />
<line x1="268.1" y1="1878.8" x2="268.1" y2="1894.8" stroke="#fc9003" stroke-width="2.8" />
<line x1="314.6" y1="1830.1" x2="325.6" y2="1830.1" stroke="#fc9003" stroke-width="2.8" />
<line x1="314.6" y1="1842.1" x2="325.6" y2="1842.1" stroke="#fc9003" stroke-width="2.8" />
<line x1="320.1" y1="1830.1" x2="320.1" y2="1842.1" stroke="#fc9003" stroke-width="2.8" />
<line x1="366.6" y1="1737.9" x2="377.6" y2="1737.9" stroke="#fc9003" stroke-width="2.8" />
<line x1="366.6" y1="1753.9" x2="377.6" y2="1753.9" stroke="#fc9003" stroke-width="2.8" />
<line x1="372.1" y1="1737.9" x2="372.1" y2="1753.9" stroke="#fc9003" stroke-width="2.8" />
<circle cx="164.2" cy="1797.8" r="6.6" fill="#636363"/>
<circle cx="216.1" cy="1869.0" r="6.6" fill="#636363"/>
<circle cx="268.1" cy="1867.6" r="6.6" fill="#636363"/>
<circle cx="320.1" cy="1819.7" r="6.6" fill="#636363"/>
<circle cx="372.1" cy="1736.3" r="6.6" fill="#636363"/>
<rect x="157.5" y="1775.2" width="13.5" height="13.5" fill="#2e93fc"/>
<rect x="209.4" y="1854.5" width="13.5" height="13.5" fill="#2e93fc"/>
<rect x="261.4" y="1859.5" width="13.5" height="13.5" fill="#2e93fc"/>
<rect x="313.4" y="1817.2" width="13.5" height="13.5" fill="#2e93fc"/>
<rect x="365.4" y="1722.2" width="13.5" height="13.5" fill="#2e93fc"/>
<polygon points="164.2,1771.5 171.5,1778.7 164.2,1786.0 157.0,1778.7" fill="#fc9003"/>
<polygon points="216.1,1872.7 223.4,1879.9 216.1,1887.2 208.9,1879.9" fill="#fc9003"/>
<polygon points="268.1,1879.5 275.4,1886.8 268.1,1894.0 260.9,1886.8" fill="#fc9003"/>
<polygon points="320.1,1828.8 327.4,1836.1 320.1,1843.3 312.9,1836.1" fill="#fc9003"/>
<polygon points="372.1,1738.7 379.4,1745.9 372.1,1753.2 364.9,1745.9" fill="#fc9003"/>
<polyline points="164.2,1797.8 216.1,1869.0 268.1,1867.6 320.1,1819.7 372.1,1736.3" fill="none" stroke="#636363" stroke-width="3.3"  stroke-linejoin="round"/>
<polyline points="164.2,1782.0 216.1,1861.3 268.1,1866.2 320.1,1824.0 372.1,1729.0" fill="none" stroke="#2e93fc" stroke-width="3.3" stroke-dasharray="8.3 8.3" stroke-linejoin="round"/>
<polyline points="164.2,1778.7 216.1,1879.9 268.1,1886.8 320.1,1836.1 372.1,1745.9" fill="none" stroke="#fc9003" stroke-width="3.3" stroke-dasharray="16.4 8.2" stroke-linejoin="round"/>
<text transform="translate(268.1,1826.0) scale(1,1.035)" font-size="27" text-anchor="middle" font-weight="normal" fill="#000" stroke="#000" stroke-width="0.5" >#</text>
<text transform="translate(268.1,1849.2) scale(1,1.035)" font-size="27" text-anchor="middle" font-weight="normal" fill="#000" stroke="#000" stroke-width="0.5" >+</text>
<text transform="translate(320.1,1801.4) scale(1,1.035)" font-size="27" text-anchor="middle" font-weight="normal" fill="#000" stroke="#000" stroke-width="0.5" >#</text>
<rect x="134.3" y="1684.4" width="268.3" height="227.6" fill="none" stroke="#5c5c5c" stroke-width="2.3"/>
<line x1="133.3" y1="1684.7" x2="403.6" y2="1684.7" stroke="#333" stroke-width="3.2" />
<line x1="164.2" y1="1912.0" x2="164.2" y2="1923.0" stroke="#3a3a3a" stroke-width="3" />
<text transform="translate(164.2,1953.5) scale(1,1.035)" font-size="32" text-anchor="middle" font-weight="normal" fill="#4d4d4d" stroke="#4d4d4d" stroke-width="0.35" >1</text>
<line x1="216.1" y1="1912.0" x2="216.1" y2="1923.0" stroke="#3a3a3a" stroke-width="3" />
<text transform="translate(216.1,1953.5) scale(1,1.035)" font-size="32" text-anchor="middle" font-weight="normal" fill="#4d4d4d" stroke="#4d4d4d" stroke-width="0.35" >2</text>
<line x1="268.1" y1="1912.0" x2="268.1" y2="1923.0" stroke="#3a3a3a" stroke-width="3" />
<text transform="translate(268.1,1953.5) scale(1,1.035)" font-size="32" text-anchor="middle" font-weight="normal" fill="#4d4d4d" stroke="#4d4d4d" stroke-width="0.35" >3</text>
<line x1="320.1" y1="1912.0" x2="320.1" y2="1923.0" stroke="#3a3a3a" stroke-width="3" />
<text transform="translate(320.1,1953.5) scale(1,1.035)" font-size="32" text-anchor="middle" font-weight="normal" fill="#4d4d4d" stroke="#4d4d4d" stroke-width="0.35" >4</text>
<line x1="372.1" y1="1912.0" x2="372.1" y2="1923.0" stroke="#3a3a3a" stroke-width="3" />
<text transform="translate(372.1,1953.5) scale(1,1.035)" font-size="32" text-anchor="middle" font-weight="normal" fill="#4d4d4d" stroke="#4d4d4d" stroke-width="0.35" >5</text>
<rect x="503.7" y="1624.7" width="268.3" height="59.7" fill="#d9d9d9" stroke="#5c5c5c" stroke-width="2.3"/>
<text transform="translate(637.9,1665.1) scale(1,1.035)" font-size="31.6" text-anchor="middle" font-weight="normal" fill="#1a1a1a" stroke="#1a1a1a" stroke-width="0.35" >SLF II (L)</text>
<rect x="503.7" y="1684.4" width="268.3" height="227.6" fill="#fff" stroke="#5c5c5c" stroke-width="2.3"/>
<line x1="492.7" y1="1699.0" x2="503.7" y2="1699.0" stroke="#3a3a3a" stroke-width="3" />
<text transform="translate(485.0,1711.0) scale(1,1.035)" font-size="32" text-anchor="end" font-weight="normal" fill="#4d4d4d" stroke="#4d4d4d" stroke-width="0.35" >0.35</text>
<line x1="492.7" y1="1769.1" x2="503.7" y2="1769.1" stroke="#3a3a3a" stroke-width="3" />
<text transform="translate(485.0,1781.1) scale(1,1.035)" font-size="32" text-anchor="end" font-weight="normal" fill="#4d4d4d" stroke="#4d4d4d" stroke-width="0.35" >0.30</text>
<line x1="492.7" y1="1838.9" x2="503.7" y2="1838.9" stroke="#3a3a3a" stroke-width="3" />
<text transform="translate(485.0,1850.9) scale(1,1.035)" font-size="32" text-anchor="end" font-weight="normal" fill="#4d4d4d" stroke="#4d4d4d" stroke-width="0.35" >0.25</text>
<line x1="492.7" y1="1908.7" x2="503.7" y2="1908.7" stroke="#3a3a3a" stroke-width="3" />
<text transform="translate(485.0,1920.7) scale(1,1.035)" font-size="32" text-anchor="end" font-weight="normal" fill="#4d4d4d" stroke="#4d4d4d" stroke-width="0.35" >0.20</text>
<line x1="528.1" y1="1878.5" x2="539.1" y2="1878.5" stroke="#636363" stroke-width="2.8" />
<line x1="528.1" y1="1890.5" x2="539.1" y2="1890.5" stroke="#636363" stroke-width="2.8" />
<line x1="533.6" y1="1878.5" x2="533.6" y2="1890.5" stroke="#636363" stroke-width="2.8" />
<line x1="580.0" y1="1817.3" x2="591.0" y2="1817.3" stroke="#636363" stroke-width="2.8" />
<line x1="580.0" y1="1829.3" x2="591.0" y2="1829.3" stroke="#636363" stroke-width="2.8" />
<line x1="585.5" y1="1817.3" x2="585.5" y2="1829.3" stroke="#636363" stroke-width="2.8" />
<line x1="632.0" y1="1741.6" x2="643.0" y2="1741.6" stroke="#636363" stroke-width="2.8" />
<line x1="632.0" y1="1761.6" x2="643.0" y2="1761.6" stroke="#636363" stroke-width="2.8" />
<line x1="637.5" y1="1741.6" x2="637.5" y2="1761.6" stroke="#636363" stroke-width="2.8" />
<line x1="684.0" y1="1779.5" x2="695.0" y2="1779.5" stroke="#636363" stroke-width="2.8" />
<line x1="684.0" y1="1791.5" x2="695.0" y2="1791.5" stroke="#636363" stroke-width="2.8" />
<line x1="689.5" y1="1779.5" x2="689.5" y2="1791.5" stroke="#636363" stroke-width="2.8" />
<line x1="736.0" y1="1782.1" x2="747.0" y2="1782.1" stroke="#636363" stroke-width="2.8" />
<line x1="736.0" y1="1794.1" x2="747.0" y2="1794.1" stroke="#636363" stroke-width="2.8" />
<line x1="741.5" y1="1782.1" x2="741.5" y2="1794.1" stroke="#636363" stroke-width="2.8" />
<line x1="528.1" y1="1881.1" x2="539.1" y2="1881.1" stroke="#2e93fc" stroke-width="2.8" />
<line x1="528.1" y1="1893.1" x2="539.1" y2="1893.1" stroke="#2e93fc" stroke-width="2.8" />
<line x1="533.6" y1="1881.1" x2="533.6" y2="1893.1" stroke="#2e93fc" stroke-width="2.8" />
<line x1="580.0" y1="1814.6" x2="591.0" y2="1814.6" stroke="#2e93fc" stroke-width="2.8" />
<line x1="580.0" y1="1834.6" x2="591.0" y2="1834.6" stroke="#2e93fc" stroke-width="2.8" />
<line x1="585.5" y1="1814.6" x2="585.5" y2="1834.6" stroke="#2e93fc" stroke-width="2.8" />
<line x1="632.0" y1="1756.0" x2="643.0" y2="1756.0" stroke="#2e93fc" stroke-width="2.8" />
<line x1="632.0" y1="1768.0" x2="643.0" y2="1768.0" stroke="#2e93fc" stroke-width="2.8" />
<line x1="637.5" y1="1756.0" x2="637.5" y2="1768.0" stroke="#2e93fc" stroke-width="2.8" />
<line x1="684.0" y1="1787.2" x2="695.0" y2="1787.2" stroke="#2e93fc" stroke-width="2.8" />
<line x1="684.0" y1="1807.2" x2="695.0" y2="1807.2" stroke="#2e93fc" stroke-width="2.8" />
<line x1="689.5" y1="1787.2" x2="689.5" y2="1807.2" stroke="#2e93fc" stroke-width="2.8" />
<line x1="736.0" y1="1781.4" x2="747.0" y2="1781.4" stroke="#2e93fc" stroke-width="2.8" />
<line x1="736.0" y1="1797.4" x2="747.0" y2="1797.4" stroke="#2e93fc" stroke-width="2.8" />
<line x1="741.5" y1="1781.4" x2="741.5" y2="1797.4" stroke="#2e93fc" stroke-width="2.8" />
<line x1="528.1" y1="1877.2" x2="539.1" y2="1877.2" stroke="#fc9003" stroke-width="2.8" />
<line x1="528.1" y1="1889.2" x2="539.1" y2="1889.2" stroke="#fc9003" stroke-width="2.8" />
<line x1="533.6" y1="1877.2" x2="533.6" y2="1889.2" stroke="#fc9003" stroke-width="2.8" />
<line x1="580.0" y1="1834.0" x2="591.0" y2="1834.0" stroke="#fc9003" stroke-width="2.8" />
<line x1="580.0" y1="1862.0" x2="591.0" y2="1862.0" stroke="#fc9003" stroke-width="2.8" />
<line x1="585.5" y1="1834.0" x2="585.5" y2="1862.0" stroke="#fc9003" stroke-width="2.8" />
<line x1="632.0" y1="1765.0" x2="643.0" y2="1765.0" stroke="#fc9003" stroke-width="2.8" />
<line x1="632.0" y1="1793.0" x2="643.0" y2="1793.0" stroke="#fc9003" stroke-width="2.8" />
<line x1="637.5" y1="1765.0" x2="637.5" y2="1793.0" stroke="#fc9003" stroke-width="2.8" />
<line x1="684.0" y1="1763.0" x2="695.0" y2="1763.0" stroke="#fc9003" stroke-width="2.8" />
<line x1="684.0" y1="1787.0" x2="695.0" y2="1787.0" stroke="#fc9003" stroke-width="2.8" />
<line x1="689.5" y1="1763.0" x2="689.5" y2="1787.0" stroke="#fc9003" stroke-width="2.8" />
<line x1="736.0" y1="1771.6" x2="747.0" y2="1771.6" stroke="#fc9003" stroke-width="2.8" />
<line x1="736.0" y1="1791.6" x2="747.0" y2="1791.6" stroke="#fc9003" stroke-width="2.8" />
<line x1="741.5" y1="1771.6" x2="741.5" y2="1791.6" stroke="#fc9003" stroke-width="2.8" />
<circle cx="533.6" cy="1884.5" r="6.6" fill="#636363"/>
<circle cx="585.5" cy="1823.3" r="6.6" fill="#636363"/>
<circle cx="637.5" cy="1751.6" r="6.6" fill="#636363"/>
<circle cx="689.5" cy="1785.5" r="6.6" fill="#636363"/>
<circle cx="741.5" cy="1788.1" r="6.6" fill="#636363"/>
<rect x="526.9" y="1880.3" width="13.5" height="13.5" fill="#2e93fc"/>
<rect x="578.8" y="1817.8" width="13.5" height="13.5" fill="#2e93fc"/>
<rect x="630.8" y="1755.2" width="13.5" height="13.5" fill="#2e93fc"/>
<rect x="682.8" y="1790.5" width="13.5" height="13.5" fill="#2e93fc"/>
<rect x="734.8" y="1782.7" width="13.5" height="13.5" fill="#2e93fc"/>
<polygon points="533.6,1876.0 540.9,1883.2 533.6,1890.5 526.4,1883.2" fill="#fc9003"/>
<polygon points="585.5,1840.8 592.8,1848.0 585.5,1855.2 578.2,1848.0" fill="#fc9003"/>
<polygon points="637.5,1771.8 644.8,1779.0 637.5,1786.2 630.2,1779.0" fill="#fc9003"/>
<polygon points="689.5,1767.8 696.8,1775.0 689.5,1782.2 682.2,1775.0" fill="#fc9003"/>
<polygon points="741.5,1774.3 748.8,1781.6 741.5,1788.8 734.2,1781.6" fill="#fc9003"/>
<polyline points="533.6,1884.5 585.5,1823.3 637.5,1751.6 689.5,1785.5 741.5,1788.1" fill="none" stroke="#636363" stroke-width="3.3"  stroke-linejoin="round"/>
<polyline points="533.6,1887.1 585.5,1824.6 637.5,1762.0 689.5,1797.2 741.5,1789.4" fill="none" stroke="#2e93fc" stroke-width="3.3" stroke-dasharray="8.3 8.3" stroke-linejoin="round"/>
<polyline points="533.6,1883.2 585.5,1848.0 637.5,1779.0 689.5,1775.0 741.5,1781.6" fill="none" stroke="#fc9003" stroke-width="3.3" stroke-dasharray="16.4 8.2" stroke-linejoin="round"/>
<text transform="translate(637.5,1729.3) scale(1,1.035)" font-size="27" text-anchor="middle" font-weight="normal" fill="#000" stroke="#000" stroke-width="0.5" >#</text>
<rect x="503.7" y="1684.4" width="268.3" height="227.6" fill="none" stroke="#5c5c5c" stroke-width="2.3"/>
<line x1="502.7" y1="1684.7" x2="773.0" y2="1684.7" stroke="#333" stroke-width="3.2" />
<line x1="533.6" y1="1912.0" x2="533.6" y2="1923.0" stroke="#3a3a3a" stroke-width="3" />
<text transform="translate(533.6,1953.5) scale(1,1.035)" font-size="32" text-anchor="middle" font-weight="normal" fill="#4d4d4d" stroke="#4d4d4d" stroke-width="0.35" >1</text>
<line x1="585.5" y1="1912.0" x2="585.5" y2="1923.0" stroke="#3a3a3a" stroke-width="3" />
<text transform="translate(585.5,1953.5) scale(1,1.035)" font-size="32" text-anchor="middle" font-weight="normal" fill="#4d4d4d" stroke="#4d4d4d" stroke-width="0.35" >2</text>
<line x1="637.5" y1="1912.0" x2="637.5" y2="1923.0" stroke="#3a3a3a" stroke-width="3" />
<text transform="translate(637.5,1953.5) scale(1,1.035)" font-size="32" text-anchor="middle" font-weight="normal" fill="#4d4d4d" stroke="#4d4d4d" stroke-width="0.35" >3</text>
<line x1="689.5" y1="1912.0" x2="689.5" y2="1923.0" stroke="#3a3a3a" stroke-width="3" />
<text transform="translate(689.5,1953.5) scale(1,1.035)" font-size="32" text-anchor="middle" font-weight="normal" fill="#4d4d4d" stroke="#4d4d4d" stroke-width="0.35" >4</text>
<line x1="741.5" y1="1912.0" x2="741.5" y2="1923.0" stroke="#3a3a3a" stroke-width="3" />
<text transform="translate(741.5,1953.5) scale(1,1.035)" font-size="32" text-anchor="middle" font-weight="normal" fill="#4d4d4d" stroke="#4d4d4d" stroke-width="0.35" >5</text>
<rect x="872.1" y="1624.7" width="268.3" height="59.7" fill="#d9d9d9" stroke="#5c5c5c" stroke-width="2.3"/>
<text transform="translate(1006.2,1665.1) scale(1,1.035)" font-size="31.6" text-anchor="middle" font-weight="normal" fill="#1a1a1a" stroke="#1a1a1a" stroke-width="0.35" >UF (R)</text>
<rect x="872.1" y="1684.4" width="268.3" height="227.6" fill="#fff" stroke="#5c5c5c" stroke-width="2.3"/>
<line x1="861.1" y1="1730.2" x2="872.1" y2="1730.2" stroke="#3a3a3a" stroke-width="3" />
<text transform="translate(853.4,1742.2) scale(1,1.035)" font-size="32" text-anchor="end" font-weight="normal" fill="#4d4d4d" stroke="#4d4d4d" stroke-width="0.35" >0.25</text>
<line x1="861.1" y1="1788.3" x2="872.1" y2="1788.3" stroke="#3a3a3a" stroke-width="3" />
<text transform="translate(853.4,1800.3) scale(1,1.035)" font-size="32" text-anchor="end" font-weight="normal" fill="#4d4d4d" stroke="#4d4d4d" stroke-width="0.35" >0.20</text>
<line x1="861.1" y1="1846.5" x2="872.1" y2="1846.5" stroke="#3a3a3a" stroke-width="3" />
<text transform="translate(853.4,1858.5) scale(1,1.035)" font-size="32" text-anchor="end" font-weight="normal" fill="#4d4d4d" stroke="#4d4d4d" stroke-width="0.35" >0.15</text>
<line x1="861.1" y1="1905.2" x2="872.1" y2="1905.2" stroke="#3a3a3a" stroke-width="3" />
<text transform="translate(853.4,1917.2) scale(1,1.035)" font-size="32" text-anchor="end" font-weight="normal" fill="#4d4d4d" stroke="#4d4d4d" stroke-width="0.35" >0.10</text>
<line x1="896.5" y1="1729.1" x2="907.5" y2="1729.1" stroke="#636363" stroke-width="2.8" />
<line x1="896.5" y1="1741.1" x2="907.5" y2="1741.1" stroke="#636363" stroke-width="2.8" />
<line x1="902.0" y1="1729.1" x2="902.0" y2="1741.1" stroke="#636363" stroke-width="2.8" />
<line x1="948.4" y1="1804.0" x2="959.4" y2="1804.0" stroke="#636363" stroke-width="2.8" />
<line x1="948.4" y1="1816.0" x2="959.4" y2="1816.0" stroke="#636363" stroke-width="2.8" />
<line x1="953.9" y1="1804.0" x2="953.9" y2="1816.0" stroke="#636363" stroke-width="2.8" />
<line x1="1000.4" y1="1882.6" x2="1011.4" y2="1882.6" stroke="#636363" stroke-width="2.8" />
<line x1="1000.4" y1="1894.6" x2="1011.4" y2="1894.6" stroke="#636363" stroke-width="2.8" />
<line x1="1005.9" y1="1882.6" x2="1005.9" y2="1894.6" stroke="#636363" stroke-width="2.8" />
<line x1="1052.4" y1="1828.1" x2="1063.4" y2="1828.1" stroke="#636363" stroke-width="2.8" />
<line x1="1052.4" y1="1840.1" x2="1063.4" y2="1840.1" stroke="#636363" stroke-width="2.8" />
<line x1="1057.9" y1="1828.1" x2="1057.9" y2="1840.1" stroke="#636363" stroke-width="2.8" />
<line x1="1104.4" y1="1731.3" x2="1115.4" y2="1731.3" stroke="#636363" stroke-width="2.8" />
<line x1="1104.4" y1="1751.3" x2="1115.4" y2="1751.3" stroke="#636363" stroke-width="2.8" />
<line x1="1109.9" y1="1731.3" x2="1109.9" y2="1751.3" stroke="#636363" stroke-width="2.8" />
<line x1="896.5" y1="1731.3" x2="907.5" y2="1731.3" stroke="#2e93fc" stroke-width="2.8" />
<line x1="896.5" y1="1761.3" x2="907.5" y2="1761.3" stroke="#2e93fc" stroke-width="2.8" />
<line x1="902.0" y1="1731.3" x2="902.0" y2="1761.3" stroke="#2e93fc" stroke-width="2.8" />
<line x1="948.4" y1="1789.2" x2="959.4" y2="1789.2" stroke="#2e93fc" stroke-width="2.8" />
<line x1="948.4" y1="1807.2" x2="959.4" y2="1807.2" stroke="#2e93fc" stroke-width="2.8" />
<line x1="953.9" y1="1789.2" x2="953.9" y2="1807.2" stroke="#2e93fc" stroke-width="2.8" />
<line x1="1000.4" y1="1880.1" x2="1011.4" y2="1880.1" stroke="#2e93fc" stroke-width="2.8" />
<line x1="1000.4" y1="1892.1" x2="1011.4" y2="1892.1" stroke="#2e93fc" stroke-width="2.8" />
<line x1="1005.9" y1="1880.1" x2="1005.9" y2="1892.1" stroke="#2e93fc" stroke-width="2.8" />
<line x1="1052.4" y1="1825.7" x2="1063.4" y2="1825.7" stroke="#2e93fc" stroke-width="2.8" />
<line x1="1052.4" y1="1837.7" x2="1063.4" y2="1837.7" stroke="#2e93fc" stroke-width="2.8" />
<line x1="1057.9" y1="1825.7" x2="1057.9" y2="1837.7" stroke="#2e93fc" stroke-width="2.8" />
<line x1="1104.4" y1="1735.3" x2="1115.4" y2="1735.3" stroke="#2e93fc" stroke-width="2.8" />
<line x1="1104.4" y1="1747.3" x2="1115.4" y2="1747.3" stroke="#2e93fc" stroke-width="2.8" />
<line x1="1109.9" y1="1735.3" x2="1109.9" y2="1747.3" stroke="#2e93fc" stroke-width="2.8" />
<line x1="896.5" y1="1718.6" x2="907.5" y2="1718.6" stroke="#fc9003" stroke-width="2.8" />
<line x1="896.5" y1="1746.6" x2="907.5" y2="1746.6" stroke="#fc9003" stroke-width="2.8" />
<line x1="902.0" y1="1718.6" x2="902.0" y2="1746.6" stroke="#fc9003" stroke-width="2.8" />
<line x1="948.4" y1="1807.0" x2="959.4" y2="1807.0" stroke="#fc9003" stroke-width="2.8" />
<line x1="948.4" y1="1829.0" x2="959.4" y2="1829.0" stroke="#fc9003" stroke-width="2.8" />
<line x1="953.9" y1="1807.0" x2="953.9" y2="1829.0" stroke="#fc9003" stroke-width="2.8" />
<line x1="1000.4" y1="1872.7" x2="1011.4" y2="1872.7" stroke="#fc9003" stroke-width="2.8" />
<line x1="1000.4" y1="1884.7" x2="1011.4" y2="1884.7" stroke="#fc9003" stroke-width="2.8" />
<line x1="1005.9" y1="1872.7" x2="1005.9" y2="1884.7" stroke="#fc9003" stroke-width="2.8" />
<line x1="1052.4" y1="1817.0" x2="1063.4" y2="1817.0" stroke="#fc9003" stroke-width="2.8" />
<line x1="1052.4" y1="1829.0" x2="1063.4" y2="1829.0" stroke="#fc9003" stroke-width="2.8" />
<line x1="1057.9" y1="1817.0" x2="1057.9" y2="1829.0" stroke="#fc9003" stroke-width="2.8" />
<line x1="1104.4" y1="1736.7" x2="1115.4" y2="1736.7" stroke="#fc9003" stroke-width="2.8" />
<line x1="1104.4" y1="1760.7" x2="1115.4" y2="1760.7" stroke="#fc9003" stroke-width="2.8" />
<line x1="1109.9" y1="1736.7" x2="1109.9" y2="1760.7" stroke="#fc9003" stroke-width="2.8" />
<circle cx="902.0" cy="1735.1" r="6.6" fill="#636363"/>
<circle cx="953.9" cy="1810.0" r="6.6" fill="#636363"/>
<circle cx="1005.9" cy="1888.6" r="6.6" fill="#636363"/>
<circle cx="1057.9" cy="1834.1" r="6.6" fill="#636363"/>
<circle cx="1109.9" cy="1741.3" r="6.6" fill="#636363"/>
<rect x="895.2" y="1739.5" width="13.5" height="13.5" fill="#2e93fc"/>
<rect x="947.1" y="1791.5" width="13.5" height="13.5" fill="#2e93fc"/>
<rect x="999.2" y="1879.3" width="13.5" height="13.5" fill="#2e93fc"/>
<rect x="1051.2" y="1825.0" width="13.5" height="13.5" fill="#2e93fc"/>
<rect x="1103.2" y="1734.5" width="13.5" height="13.5" fill="#2e93fc"/>
<polygon points="902.0,1725.3 909.2,1732.6 902.0,1739.8 894.8,1732.6" fill="#fc9003"/>
<polygon points="953.9,1810.8 961.1,1818.0 953.9,1825.2 946.6,1818.0" fill="#fc9003"/>
<polygon points="1005.9,1871.5 1013.2,1878.7 1005.9,1886.0 998.7,1878.7" fill="#fc9003"/>
<polygon points="1057.9,1815.8 1065.2,1823.0 1057.9,1830.2 1050.7,1823.0" fill="#fc9003"/>
<polygon points="1109.9,1741.5 1117.2,1748.7 1109.9,1756.0 1102.7,1748.7" fill="#fc9003"/>
<polyline points="902.0,1735.1 953.9,1810.0 1005.9,1888.6 1057.9,1834.1 1109.9,1741.3" fill="none" stroke="#636363" stroke-width="3.3"  stroke-linejoin="round"/>
<polyline points="902.0,1746.3 953.9,1798.2 1005.9,1886.1 1057.9,1831.7 1109.9,1741.3" fill="none" stroke="#2e93fc" stroke-width="3.3" stroke-dasharray="8.3 8.3" stroke-linejoin="round"/>
<polyline points="902.0,1732.6 953.9,1818.0 1005.9,1878.7 1057.9,1823.0 1109.9,1748.7" fill="none" stroke="#fc9003" stroke-width="3.3" stroke-dasharray="16.4 8.2" stroke-linejoin="round"/>
<rect x="872.1" y="1684.4" width="268.3" height="227.6" fill="none" stroke="#5c5c5c" stroke-width="2.3"/>
<line x1="871.1" y1="1684.7" x2="1141.4" y2="1684.7" stroke="#333" stroke-width="3.2" />
<line x1="902.0" y1="1912.0" x2="902.0" y2="1923.0" stroke="#3a3a3a" stroke-width="3" />
<text transform="translate(902.0,1953.5) scale(1,1.035)" font-size="32" text-anchor="middle" font-weight="normal" fill="#4d4d4d" stroke="#4d4d4d" stroke-width="0.35" >1</text>
<line x1="953.9" y1="1912.0" x2="953.9" y2="1923.0" stroke="#3a3a3a" stroke-width="3" />
<text transform="translate(953.9,1953.5) scale(1,1.035)" font-size="32" text-anchor="middle" font-weight="normal" fill="#4d4d4d" stroke="#4d4d4d" stroke-width="0.35" >2</text>
<line x1="1005.9" y1="1912.0" x2="1005.9" y2="1923.0" stroke="#3a3a3a" stroke-width="3" />
<text transform="translate(1005.9,1953.5) scale(1,1.035)" font-size="32" text-anchor="middle" font-weight="normal" fill="#4d4d4d" stroke="#4d4d4d" stroke-width="0.35" >3</text>
<line x1="1057.9" y1="1912.0" x2="1057.9" y2="1923.0" stroke="#3a3a3a" stroke-width="3" />
<text transform="translate(1057.9,1953.5) scale(1,1.035)" font-size="32" text-anchor="middle" font-weight="normal" fill="#4d4d4d" stroke="#4d4d4d" stroke-width="0.35" >4</text>
<line x1="1109.9" y1="1912.0" x2="1109.9" y2="1923.0" stroke="#3a3a3a" stroke-width="3" />
<text transform="translate(1109.9,1953.5) scale(1,1.035)" font-size="32" text-anchor="middle" font-weight="normal" fill="#4d4d4d" stroke="#4d4d4d" stroke-width="0.35" >5</text>
<text transform="translate(15.0,37.0) scale(1,1.04)" font-size="34" text-anchor="start" font-weight="bold" fill="#000" >A</text>
<text transform="translate(14.8,947.5) scale(1,1.04)" font-size="34" text-anchor="start" font-weight="bold" fill="#000" >B</text>
<text transform="translate(36,424) rotate(-90) scale(1,1.08)" font-size="39" text-anchor="middle" font-weight="bold" fill="#000" stroke="#000" stroke-width="0.4">ODI</text>
<text transform="translate(36,1443.2) rotate(-90) scale(1,1.08)" font-size="39" text-anchor="middle" font-weight="bold" fill="#000" stroke="#000" stroke-width="0.4">ODI</text>
<text transform="translate(839.5,865.1) scale(1,1.08)" font-size="39" text-anchor="middle" font-weight="bold" fill="#000" stroke="#000" stroke-width="0.4" >Group</text>
<text transform="translate(831.0,1998.3) scale(1,1.08)" font-size="39" text-anchor="middle" font-weight="bold" fill="#000" stroke="#000" stroke-width="0.4" >Segment</text>
<text transform="translate(528.0,2062.8) scale(1,1.08)" font-size="39" text-anchor="start" font-weight="bold" fill="#000" stroke="#000" stroke-width="0.4" >Group</text>
<line x1="671.0" y1="2048.8" x2="725.2" y2="2048.8" stroke="#636363" stroke-width="4" />
<circle cx="697.8" cy="2048.8" r="7.6" fill="#636363"/>
<text transform="translate(751.0,2060.6) scale(1,1.035)" font-size="32" text-anchor="start" font-weight="normal" fill="#000" stroke="#000" stroke-width="0.35" >CTL</text>
<line x1="837.7" y1="2048.8" x2="891.6" y2="2048.8" stroke="#2e93fc" stroke-width="4" stroke-dasharray="7.5 7.8 25.5 10.1 3 50"/>
<rect x="856.3" y="2041.3" width="15" height="15" fill="#2e93fc"/>
<text transform="translate(917.8,2060.6) scale(1,1.035)" font-size="32" text-anchor="start" font-weight="normal" fill="#000" stroke="#000" stroke-width="0.35" >CHD</text>
<line x1="1012.8" y1="2048.8" x2="1067.0" y2="2048.8" stroke="#fc9003" stroke-width="4" stroke-dasharray="11.2 5.5 24.7 10.1 2.8 50"/>
<polygon points="1040.0,2041.1 1047.8,2048.8 1040.0,2056.6 1032.2,2048.8" fill="#fc9003"/>
<text transform="translate(1094.0,2060.6) scale(1,1.035)" font-size="32" text-anchor="start" font-weight="normal" fill="#000" stroke="#000" stroke-width="0.35" >PT</text>
</svg>
</body></html>
